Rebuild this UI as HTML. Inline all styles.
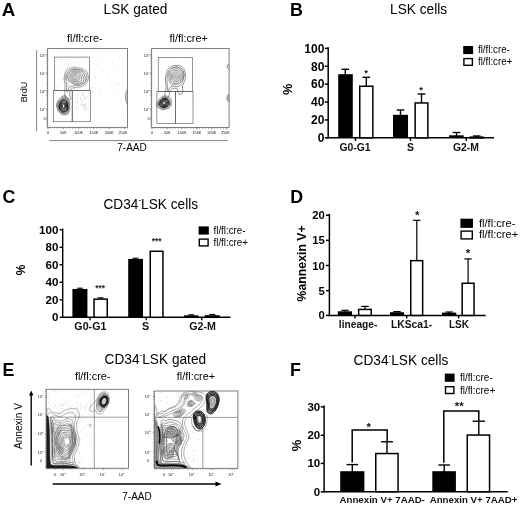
<!DOCTYPE html>
<html lang="en"><head><meta charset="utf-8"><title>Figure</title>
<style>html,body{margin:0;padding:0;background:#fff;}svg{display:block;}text{font-family:"Liberation Sans", Arial, Helvetica, sans-serif;}</style></head><body>
<svg width="520" height="506" viewBox="0 0 520 506">
<rect x="0" y="0" width="520" height="506" fill="#fff"/>
<g id="fig" style="filter:blur(0.35px)">
<text x="0" y="0" font-size="17.5" font-weight="bold" fill="#000" transform="translate(1.8 15.8) scale(1.07 1)">A</text>
<text x="0" y="0" font-size="14.8" fill="#000" text-anchor="middle" transform="translate(135.5 14.1) scale(0.925 1)">LSK gated</text>
<text x="0" y="0" font-size="11.3" text-anchor="start" fill="#000" transform="translate(67.0 41.8) scale(0.96 1)">fl/fl:cre-</text>
<text x="0" y="0" font-size="11.3" text-anchor="start" fill="#000" transform="translate(169.6 41.8) scale(0.96 1)">fl/fl:cre+</text>
<text x="27.1" y="92" font-size="9.1" text-anchor="middle" fill="#000" transform="rotate(-90 27.1 92)">BrdU</text>
<text x="132" y="150.6" font-size="10" text-anchor="middle" fill="#000">7-AAD</text>
<line x1="36.6" y1="50.2" x2="36.6" y2="131.2" stroke="#858585" stroke-width="1.0"/>
<line x1="49.2" y1="140.6" x2="227.7" y2="140.6" stroke="#858585" stroke-width="1.0"/>
<rect x="47.70" y="48.60" width="79.70" height="78.70" fill="none" stroke="#555" stroke-width="0.75"/>
<text x="44.1" y="57.1" font-size="3.8" text-anchor="end" fill="#151515">10</text>
<text x="44.1" y="55.300000000000004" font-size="2.4" text-anchor="start" fill="#151515">5</text>
<line x1="45.900000000000006" y1="55.7" x2="47.7" y2="55.7" stroke="#555" stroke-width="0.5"/>
<text x="44.1" y="74.9" font-size="3.8" text-anchor="end" fill="#151515">10</text>
<text x="44.1" y="73.1" font-size="2.4" text-anchor="start" fill="#151515">4</text>
<line x1="45.900000000000006" y1="73.5" x2="47.7" y2="73.5" stroke="#555" stroke-width="0.5"/>
<text x="44.1" y="92.7" font-size="3.8" text-anchor="end" fill="#151515">10</text>
<text x="44.1" y="90.89999999999999" font-size="2.4" text-anchor="start" fill="#151515">3</text>
<line x1="45.900000000000006" y1="91.3" x2="47.7" y2="91.3" stroke="#555" stroke-width="0.5"/>
<text x="44.1" y="111.0" font-size="3.8" text-anchor="end" fill="#151515">10</text>
<text x="44.1" y="109.19999999999999" font-size="2.4" text-anchor="start" fill="#151515">2</text>
<line x1="45.900000000000006" y1="109.6" x2="47.7" y2="109.6" stroke="#555" stroke-width="0.5"/>
<text x="45.5" y="119.5" font-size="3.8" text-anchor="end" fill="#151515">0</text>
<line x1="45.900000000000006" y1="118.2" x2="47.7" y2="118.2" stroke="#555" stroke-width="0.5"/>
<text x="48.1" y="133.7" font-size="3.8" text-anchor="middle" fill="#151515">0</text>
<line x1="48.1" y1="127.3" x2="48.1" y2="129.1" stroke="#555" stroke-width="0.5"/>
<text x="63.35" y="133.7" font-size="3.8" text-anchor="middle" fill="#151515">50K</text>
<line x1="63.35" y1="127.3" x2="63.35" y2="129.1" stroke="#555" stroke-width="0.5"/>
<text x="78.6" y="133.7" font-size="3.8" text-anchor="middle" fill="#151515">100K</text>
<line x1="78.6" y1="127.3" x2="78.6" y2="129.1" stroke="#555" stroke-width="0.5"/>
<text x="93.85" y="133.7" font-size="3.8" text-anchor="middle" fill="#151515">150K</text>
<line x1="93.85" y1="127.3" x2="93.85" y2="129.1" stroke="#555" stroke-width="0.5"/>
<text x="109.1" y="133.7" font-size="3.8" text-anchor="middle" fill="#151515">200K</text>
<line x1="109.1" y1="127.3" x2="109.1" y2="129.1" stroke="#555" stroke-width="0.5"/>
<text x="122.85" y="133.7" font-size="3.8" text-anchor="middle" fill="#151515">250K</text>
<line x1="124.35" y1="127.3" x2="124.35" y2="129.1" stroke="#555" stroke-width="0.5"/>
<line x1="47.7" y1="128.2" x2="127.4" y2="128.2" stroke="#666" stroke-width="1.2" stroke-dasharray="0.5 2.55"/>
<line x1="46.900000000000006" y1="50.6" x2="46.900000000000006" y2="127.3" stroke="#666" stroke-width="1.1" stroke-dasharray="0.5 1.3"/>
<path d="M78.0 61.4h0.6M100.3 58.6h0.6M92.4 69.2h0.6M59.9 74.3h0.6M58.5 71.6h0.6M60.8 59.3h0.6M84.9 85.8h0.6M64.4 64.0h0.6M98.7 90.1h0.6M95.2 70.3h0.6M122.4 57.7h0.6M114.4 66.4h0.6M65.8 60.2h0.6M77.0 85.4h0.6M68.3 76.9h0.6M99.4 69.4h0.6M93.2 58.3h0.6M60.1 63.4h0.6M102.3 71.4h0.6M77.4 77.1h0.6M86.8 66.8h0.6M110.0 81.2h0.6M72.6 76.7h0.6M91.7 87.5h0.6M105.6 66.4h0.6M122.7 60.3h0.6M84.4 83.3h0.6M66.3 73.6h0.6M58.7 80.1h0.6M108.0 76.6h0.6M115.5 67.3h0.6M103.3 77.4h0.6M95.4 72.4h0.6M113.1 90.0h0.6M88.2 79.9h0.6M60.1 81.3h0.6M100.0 91.8h0.6M111.9 66.2h0.6M82.2 80.1h0.6M57.5 72.6h0.6M67.4 60.2h0.6M60.0 83.7h0.6M64.8 64.9h0.6M82.6 87.4h0.6M61.5 72.2h0.6M93.4 87.8h0.6M111.7 87.1h0.6M74.9 71.0h0.6M80.4 87.8h0.6M121.1 61.4h0.6M68.0 64.4h0.6M71.9 73.5h0.6M96.1 65.5h0.6M56.3 71.1h0.6M81.1 76.4h0.6M120.8 80.9h0.6M91.1 78.2h0.6M102.0 57.9h0.6M117.2 84.1h0.6M115.5 84.7h0.6M82.7 70.4h0.6M63.0 78.8h0.6M60.2 58.4h0.6M70.2 61.8h0.6M79.1 57.9h0.6M56.0 61.4h0.6M62.9 69.1h0.6M57.7 87.5h0.6M97.8 61.3h0.6M73.2 68.5h0.6M80.8 60.4h0.6M113.7 91.8h0.6M87.7 73.4h0.6M61.8 59.7h0.6M79.3 65.5h0.6M112.4 61.8h0.6M57.6 90.2h0.6M91.9 61.3h0.6M92.9 57.0h0.6M91.9 91.2h0.6M114.7 81.1h0.6M73.8 69.2h0.6M67.4 83.8h0.6M92.2 84.0h0.6M78.4 64.0h0.6M111.2 91.5h0.6M114.0 85.0h0.6M111.6 82.6h0.6M71.4 74.6h0.6M80.2 57.0h0.6M57.9 66.1h0.6M73.6 80.9h0.6M121.0 72.1h0.6M119.7 91.6h0.6M120.9 69.1h0.6M71.0 64.2h0.6M69.4 63.4h0.6M98.4 88.4h0.6M113.1 73.3h0.6M100.4 84.8h0.6M61.8 79.8h0.6M117.9 84.2h0.6M107.0 73.2h0.6M68.1 84.4h0.6M78.6 84.8h0.6M122.1 70.3h0.6M83.3 90.1h0.6M105.3 62.1h0.6M64.6 61.4h0.6M117.5 85.0h0.6M65.9 85.8h0.6M122.7 79.7h0.6M79.8 75.8h0.6M64.9 56.5h0.6M122.0 79.4h0.6M91.8 89.6h0.6M85.5 87.4h0.6M112.2 63.6h0.6M73.1 66.5h0.6M72.4 77.1h0.6" stroke="#c4c4c4" stroke-width="0.6" fill="none"/>
<path d="M73.6 104.6h0.6M64.9 119.3h0.6M80.1 105.7h0.6M95.7 119.1h0.6M84.6 119.5h0.6M90.1 108.0h0.6M91.6 92.6h0.6M85.9 97.5h0.6M56.3 116.0h0.6M67.7 106.2h0.6M105.3 108.7h0.6M78.2 107.6h0.6M93.8 115.5h0.6M63.2 108.8h0.6M72.9 100.3h0.6M108.5 107.2h0.6M94.2 114.8h0.6M118.0 105.3h0.6M97.7 107.2h0.6M90.8 112.8h0.6M86.8 108.0h0.6M88.5 120.2h0.6M103.5 118.3h0.6M120.1 99.8h0.6M94.0 120.3h0.6M113.1 96.1h0.6M64.3 105.3h0.6M60.9 99.2h0.6M61.0 112.1h0.6M109.3 118.9h0.6M66.5 113.5h0.6M100.9 96.3h0.6M116.0 121.0h0.6M70.9 120.6h0.6M83.1 106.6h0.6M123.3 117.0h0.6M67.0 104.9h0.6M91.1 102.2h0.6M69.3 101.6h0.6M105.1 92.6h0.6" stroke="#d0d0d0" stroke-width="0.6" fill="none"/>
<path d="M82.6 74.3h0.6M66.5 71.3h0.6M84.7 76.3h0.6M67.9 89.6h0.6M89.7 89.2h0.6M69.1 69.4h0.6M67.2 83.8h0.6M74.1 65.6h0.6M78.7 87.5h0.6M90.6 69.2h0.6M70.5 87.7h0.6M83.1 81.6h0.6M68.7 63.6h0.6M86.6 73.9h0.6M68.2 88.3h0.6M85.0 84.4h0.6M68.5 86.0h0.6M68.0 86.2h0.6M79.6 71.5h0.6M82.6 87.9h0.6M74.0 65.6h0.6M81.8 68.7h0.6M69.3 66.5h0.6M67.5 67.6h0.6M75.4 70.5h0.6M88.8 70.1h0.6M81.0 67.0h0.6M76.4 62.5h0.6M73.5 62.4h0.6M88.0 77.4h0.6M71.7 75.3h0.6M94.0 65.0h0.6M90.6 74.1h0.6M80.9 85.4h0.6M77.8 76.2h0.6M86.6 89.5h0.6M76.3 85.3h0.6M87.2 79.8h0.6M78.1 71.7h0.6M67.6 65.6h0.6M68.1 82.7h0.6M73.7 66.6h0.6M68.5 85.6h0.6M92.1 80.8h0.6M74.5 68.8h0.6M74.8 74.9h0.6M70.7 74.5h0.6M73.9 88.9h0.6M95.2 77.3h0.6M73.3 89.0h0.6M75.3 72.0h0.6M66.0 72.7h0.6M80.2 76.1h0.6M72.0 76.1h0.6M66.1 69.4h0.6M68.7 73.2h0.6M67.3 62.6h0.6M75.1 68.5h0.6M83.6 76.8h0.6M88.5 80.4h0.6" stroke="#aaa" stroke-width="0.6" fill="none"/>
<path d="M84.3 108.1h0.6M80.1 99.2h0.6M87.8 96.4h0.6M84.4 104.3h0.6M75.6 107.4h0.6M86.6 104.0h0.6M84.5 107.0h0.6M76.8 102.4h0.6M81.6 107.4h0.6M85.5 107.2h0.6M82.6 108.3h0.6M83.9 105.1h0.6M78.0 94.5h0.6M76.7 99.8h0.6M76.4 107.4h0.6M82.3 104.0h0.6M83.1 104.9h0.6M81.4 94.1h0.6M85.4 106.0h0.6M81.5 102.6h0.6M83.6 95.1h0.6M84.6 98.0h0.6M76.0 98.2h0.6M84.5 97.3h0.6M84.6 109.6h0.6M81.4 100.1h0.6M81.2 104.9h0.6M85.0 103.9h0.6M83.4 95.2h0.6M76.9 98.1h0.6M84.7 98.9h0.6M82.4 94.2h0.6M75.8 98.3h0.6M83.7 105.1h0.6M83.8 98.7h0.6M81.7 101.4h0.6M81.1 95.9h0.6M86.6 97.2h0.6M87.7 109.0h0.6M75.2 101.3h0.6M85.7 109.5h0.6M80.8 98.3h0.6M77.7 109.1h0.6M77.7 103.3h0.6M76.8 102.4h0.6" stroke="#999" stroke-width="0.6" fill="none"/>
<rect x="54.60" y="57.10" width="35.00" height="33.60" fill="none" stroke="#555" stroke-width="0.62"/>
<rect x="53.50" y="90.70" width="18.70" height="31.00" fill="none" stroke="#555" stroke-width="0.62"/>
<rect x="72.20" y="90.70" width="18.30" height="31.00" fill="none" stroke="#555" stroke-width="0.62"/>
<path d="M64.50 75.00C64.95 73.33 65.58 71.20 67.00 70.00C68.42 68.80 70.83 68.10 73.00 67.80C75.17 67.50 77.83 67.67 80.00 68.20C82.17 68.73 84.62 69.53 86.00 71.00C87.38 72.47 88.22 75.00 88.30 77.00C88.38 79.00 87.72 81.40 86.50 83.00C85.28 84.60 82.92 85.87 81.00 86.60C79.08 87.33 76.75 86.92 75.00 87.40C73.25 87.88 71.40 88.23 70.50 89.50C69.60 90.77 69.58 93.42 69.60 95.00C69.62 96.58 71.20 98.50 70.60 99.00C70.00 99.50 66.97 99.00 66.00 98.00C65.03 97.00 64.93 95.00 64.80 93.00C64.67 91.00 65.28 88.17 65.20 86.00C65.12 83.83 64.42 81.83 64.30 80.00C64.18 78.17 64.05 76.67 64.50 75.00Z" fill="none" stroke="#4a4a4a" stroke-width="0.55" stroke-linejoin="round"/>
<path d="M66.00 75.50C66.53 74.08 67.67 72.03 69.00 71.00C70.33 69.97 72.17 69.50 74.00 69.30C75.83 69.10 78.17 69.27 80.00 69.80C81.83 70.33 83.87 71.25 85.00 72.50C86.13 73.75 86.80 75.72 86.80 77.30C86.80 78.88 86.13 80.72 85.00 82.00C83.87 83.28 81.83 84.37 80.00 85.00C78.17 85.63 75.75 85.47 74.00 85.80C72.25 86.13 70.57 86.05 69.50 87.00C68.43 87.95 68.08 91.00 67.60 91.50C67.12 92.00 66.75 91.25 66.60 90.00C66.45 88.75 66.83 85.75 66.70 84.00C66.57 82.25 65.92 80.92 65.80 79.50C65.68 78.08 65.47 76.92 66.00 75.50Z" fill="none" stroke="#4a4a4a" stroke-width="0.55" stroke-linejoin="round"/>
<path d="M85.33 78.43C85.44 79.48 85.84 80.86 85.21 81.75C84.59 82.64 82.89 83.33 81.58 83.78C80.26 84.23 78.71 84.41 77.33 84.43C75.95 84.44 74.56 84.31 73.30 83.87C72.03 83.42 70.86 82.52 69.75 81.76C68.63 81.01 67.14 80.35 66.60 79.35C66.07 78.35 66.14 76.81 66.52 75.79C66.90 74.77 68.12 74.06 68.90 73.24C69.69 72.43 70.17 71.51 71.22 70.91C72.27 70.32 73.82 69.76 75.21 69.67C76.59 69.57 78.25 69.91 79.55 70.36C80.86 70.82 82.20 71.56 83.04 72.40C83.87 73.24 84.19 74.41 84.57 75.42C84.95 76.42 85.22 77.37 85.33 78.43Z" fill="none" stroke="#484848" stroke-width="0.55" stroke-linejoin="round"/>
<path d="M83.65 78.37C83.73 79.28 83.95 80.40 83.42 81.13C82.88 81.86 81.52 82.38 80.44 82.73C79.36 83.07 78.12 83.19 76.94 83.20C75.76 83.20 74.41 83.09 73.35 82.74C72.29 82.39 71.47 81.75 70.58 81.10C69.68 80.45 68.46 79.68 67.99 78.86C67.51 78.03 67.44 76.99 67.73 76.17C68.03 75.36 69.09 74.66 69.77 73.96C70.45 73.27 70.94 72.49 71.82 72.02C72.71 71.54 73.95 71.17 75.08 71.11C76.20 71.04 77.47 71.26 78.56 71.62C79.65 71.97 80.88 72.56 81.60 73.24C82.33 73.91 82.57 74.82 82.91 75.68C83.25 76.53 83.57 77.46 83.65 78.37Z" fill="none" stroke="#484848" stroke-width="0.55" stroke-linejoin="round"/>
<path d="M81.63 78.01C81.72 78.72 82.08 79.73 81.66 80.33C81.23 80.94 79.94 81.38 79.09 81.65C78.24 81.92 77.48 81.97 76.56 81.95C75.64 81.93 74.46 81.81 73.58 81.52C72.70 81.24 72.01 80.75 71.28 80.25C70.55 79.74 69.53 79.17 69.18 78.52C68.82 77.87 68.84 76.97 69.13 76.34C69.41 75.70 70.35 75.24 70.89 74.70C71.43 74.16 71.70 73.51 72.37 73.10C73.05 72.69 74.02 72.31 74.92 72.24C75.82 72.16 76.88 72.31 77.75 72.63C78.62 72.95 79.59 73.58 80.15 74.16C80.72 74.73 80.90 75.43 81.14 76.07C81.39 76.71 81.55 77.30 81.63 78.01Z" fill="none" stroke="#484848" stroke-width="0.55" stroke-linejoin="round"/>
<path d="M79.92 77.97C79.94 78.47 80.04 79.10 79.70 79.51C79.37 79.92 78.55 80.22 77.92 80.45C77.29 80.68 76.59 80.87 75.93 80.89C75.28 80.92 74.61 80.85 73.96 80.60C73.31 80.35 72.61 79.79 72.05 79.42C71.50 79.04 70.90 78.82 70.65 78.35C70.39 77.88 70.36 77.10 70.52 76.59C70.69 76.08 71.19 75.68 71.61 75.29C72.03 74.90 72.48 74.53 73.03 74.26C73.58 73.98 74.25 73.73 74.90 73.65C75.54 73.58 76.26 73.59 76.89 73.79C77.53 74.00 78.23 74.43 78.68 74.87C79.13 75.32 79.37 75.97 79.57 76.49C79.78 77.00 79.90 77.47 79.92 77.97Z" fill="none" stroke="#484848" stroke-width="0.55" stroke-linejoin="round"/>
<path d="M78.12 77.72C78.15 78.05 78.27 78.53 78.05 78.79C77.83 79.05 77.23 79.16 76.81 79.29C76.39 79.41 75.96 79.51 75.53 79.54C75.09 79.57 74.63 79.60 74.19 79.46C73.75 79.31 73.30 78.93 72.91 78.68C72.52 78.44 72.02 78.29 71.86 77.97C71.69 77.64 71.80 77.05 71.92 76.72C72.04 76.39 72.31 76.25 72.57 75.99C72.83 75.74 73.13 75.40 73.48 75.21C73.83 75.02 74.22 74.87 74.64 74.84C75.06 74.80 75.56 74.84 76.01 75.00C76.45 75.16 77.00 75.50 77.31 75.80C77.62 76.10 77.73 76.47 77.86 76.78C78.00 77.10 78.09 77.39 78.12 77.72Z" fill="none" stroke="#484848" stroke-width="0.55" stroke-linejoin="round"/>
<path d="M76.23 77.42C76.25 77.62 76.23 78.00 76.14 78.14C76.05 78.28 75.89 78.23 75.67 78.28C75.46 78.32 75.07 78.42 74.85 78.42C74.63 78.43 74.54 78.38 74.34 78.32C74.15 78.26 73.86 78.19 73.69 78.06C73.52 77.93 73.44 77.72 73.34 77.54C73.25 77.37 73.07 77.16 73.11 77.02C73.15 76.88 73.45 76.81 73.59 76.70C73.72 76.59 73.74 76.47 73.92 76.36C74.10 76.26 74.44 76.10 74.66 76.09C74.87 76.08 75.03 76.23 75.22 76.31C75.42 76.40 75.69 76.49 75.83 76.59C75.97 76.70 75.99 76.80 76.06 76.94C76.13 77.08 76.22 77.22 76.23 77.42Z" fill="none" stroke="#484848" stroke-width="0.55" stroke-linejoin="round"/>
<path d="M69.70 105.58C69.70 106.97 69.83 108.43 69.56 109.80C69.29 111.16 68.81 112.92 68.07 113.78C67.34 114.63 66.14 114.80 65.15 114.92C64.17 115.05 63.07 114.88 62.15 114.54C61.22 114.20 60.35 113.67 59.61 112.87C58.87 112.07 58.23 110.94 57.72 109.72C57.20 108.50 56.54 106.97 56.50 105.57C56.47 104.16 56.95 102.42 57.50 101.27C58.04 100.12 58.98 99.48 59.77 98.67C60.56 97.85 61.34 96.90 62.26 96.39C63.17 95.88 64.35 95.31 65.25 95.60C66.16 95.90 66.97 97.18 67.69 98.15C68.41 99.13 69.24 100.21 69.57 101.45C69.91 102.69 69.71 104.19 69.70 105.58Z" fill="none" stroke="#444" stroke-width="0.55" stroke-linejoin="round"/>
<path d="M69.11 105.63C69.12 106.88 69.16 108.24 68.90 109.45C68.64 110.67 68.19 112.16 67.55 112.92C66.90 113.68 65.88 113.88 65.01 114.01C64.14 114.14 63.16 114.01 62.33 113.71C61.49 113.41 60.69 112.95 60.00 112.21C59.30 111.48 58.60 110.41 58.15 109.30C57.70 108.20 57.28 106.82 57.28 105.59C57.29 104.35 57.71 102.93 58.19 101.89C58.67 100.85 59.44 100.10 60.14 99.35C60.84 98.60 61.59 97.84 62.39 97.39C63.20 96.95 64.15 96.45 64.96 96.69C65.78 96.92 66.64 97.92 67.29 98.79C67.94 99.67 68.54 100.80 68.85 101.94C69.15 103.08 69.10 104.38 69.11 105.63Z" fill="none" stroke="#444" stroke-width="0.55" stroke-linejoin="round"/>
<path d="M68.70 105.70C68.72 106.82 68.71 107.83 68.45 108.92C68.19 110.00 67.73 111.47 67.13 112.21C66.54 112.95 65.66 113.25 64.88 113.35C64.10 113.44 63.21 113.08 62.45 112.80C61.69 112.51 60.91 112.28 60.32 111.64C59.72 111.00 59.29 109.96 58.89 108.97C58.50 107.98 57.95 106.83 57.93 105.72C57.91 104.61 58.34 103.25 58.78 102.31C59.21 101.36 59.95 100.73 60.56 100.05C61.16 99.37 61.68 98.67 62.40 98.25C63.13 97.83 64.17 97.31 64.92 97.54C65.67 97.77 66.31 98.86 66.88 99.64C67.45 100.42 68.03 101.23 68.33 102.24C68.64 103.25 68.68 104.59 68.70 105.70Z" fill="none" stroke="#444" stroke-width="0.55" stroke-linejoin="round"/>
<path d="M67.93 105.72C67.93 106.73 67.95 107.78 67.77 108.76C67.59 109.73 67.37 110.99 66.84 111.59C66.31 112.18 65.32 112.25 64.60 112.32C63.88 112.40 63.17 112.27 62.53 112.04C61.88 111.82 61.29 111.53 60.75 110.97C60.22 110.41 59.68 109.53 59.32 108.66C58.95 107.79 58.56 106.73 58.57 105.75C58.57 104.77 58.94 103.60 59.34 102.76C59.73 101.92 60.38 101.31 60.93 100.70C61.48 100.10 62.01 99.49 62.64 99.14C63.28 98.79 64.07 98.39 64.73 98.58C65.39 98.77 66.09 99.59 66.59 100.28C67.10 100.97 67.55 101.80 67.77 102.70C68.00 103.61 67.93 104.72 67.93 105.72Z" fill="none" stroke="#444" stroke-width="0.55" stroke-linejoin="round"/>
<path d="M67.37 105.83C67.38 106.67 67.44 107.43 67.26 108.27C67.09 109.11 66.78 110.32 66.32 110.86C65.87 111.40 65.10 111.43 64.51 111.50C63.92 111.57 63.35 111.48 62.80 111.27C62.25 111.06 61.67 110.72 61.19 110.24C60.72 109.76 60.24 109.12 59.93 108.39C59.61 107.65 59.31 106.72 59.28 105.83C59.26 104.95 59.45 103.83 59.77 103.09C60.08 102.35 60.67 101.91 61.18 101.41C61.68 100.91 62.23 100.41 62.81 100.10C63.38 99.80 64.08 99.40 64.65 99.56C65.22 99.73 65.80 100.47 66.23 101.08C66.65 101.70 67.02 102.45 67.21 103.24C67.41 104.03 67.36 104.99 67.37 105.83Z" fill="none" stroke="#444" stroke-width="0.55" stroke-linejoin="round"/>
<path d="M67.69 105.98C67.76 106.93 67.91 108.13 67.68 108.98C67.45 109.82 66.87 110.54 66.33 111.05C65.80 111.55 65.09 111.83 64.48 112.01C63.87 112.19 63.26 112.32 62.67 112.13C62.08 111.93 61.46 111.37 60.96 110.83C60.45 110.28 59.90 109.67 59.61 108.87C59.31 108.06 59.13 106.90 59.19 105.98C59.25 105.06 59.69 104.18 59.98 103.36C60.28 102.53 60.51 101.64 60.95 101.03C61.39 100.42 62.01 99.90 62.62 99.69C63.23 99.48 64.00 99.53 64.61 99.74C65.22 99.96 65.83 100.37 66.28 100.96C66.73 101.55 67.06 102.45 67.29 103.28C67.53 104.12 67.63 105.03 67.69 105.98Z" fill="none" stroke="#000" stroke-width="0.85" stroke-linejoin="round"/>
<path d="M67.04 105.99C67.09 106.76 67.21 107.72 67.02 108.42C66.83 109.12 66.34 109.78 65.89 110.20C65.44 110.61 64.84 110.77 64.33 110.92C63.82 111.06 63.30 111.22 62.83 111.06C62.36 110.90 61.91 110.42 61.49 109.97C61.07 109.52 60.56 109.03 60.30 108.36C60.05 107.69 59.94 106.72 59.98 105.96C60.02 105.21 60.31 104.52 60.56 103.84C60.80 103.15 61.08 102.38 61.45 101.87C61.82 101.36 62.30 100.97 62.80 100.79C63.29 100.62 63.94 100.64 64.44 100.82C64.94 101.00 65.42 101.37 65.80 101.87C66.18 102.36 66.51 103.11 66.72 103.80C66.93 104.48 66.99 105.22 67.04 105.99Z" fill="none" stroke="#000" stroke-width="0.85" stroke-linejoin="round"/>
<path d="M66.23 106.04C66.28 106.66 66.40 107.41 66.26 107.96C66.12 108.51 65.73 109.01 65.39 109.34C65.04 109.67 64.57 109.84 64.17 109.94C63.76 110.04 63.33 110.09 62.96 109.96C62.59 109.84 62.28 109.55 61.94 109.19C61.61 108.84 61.16 108.37 60.96 107.84C60.76 107.31 60.70 106.60 60.74 106.00C60.78 105.40 61.02 104.79 61.21 104.26C61.39 103.72 61.55 103.20 61.85 102.80C62.15 102.39 62.61 101.97 63.01 101.83C63.40 101.69 63.84 101.82 64.23 101.97C64.61 102.12 65.02 102.36 65.32 102.74C65.61 103.13 65.83 103.73 65.98 104.28C66.13 104.83 66.19 105.43 66.23 106.04Z" fill="none" stroke="#000" stroke-width="0.85" stroke-linejoin="round"/>
<path d="M65.56 106.01C65.60 106.45 65.64 106.99 65.53 107.39C65.42 107.79 65.15 108.17 64.90 108.41C64.66 108.65 64.35 108.78 64.05 108.85C63.76 108.93 63.43 108.95 63.15 108.86C62.87 108.77 62.62 108.55 62.38 108.31C62.13 108.06 61.81 107.78 61.67 107.39C61.53 107.01 61.52 106.44 61.54 106.00C61.57 105.56 61.70 105.15 61.83 104.75C61.95 104.35 62.08 103.91 62.30 103.61C62.52 103.31 62.84 103.04 63.13 102.94C63.42 102.85 63.76 102.93 64.05 103.04C64.33 103.15 64.63 103.32 64.84 103.61C65.06 103.90 65.21 104.36 65.33 104.76C65.45 105.16 65.53 105.57 65.56 106.01Z" fill="none" stroke="#000" stroke-width="0.85" stroke-linejoin="round"/>
<path d="M64.86 106.00C64.88 106.28 64.86 106.62 64.79 106.88C64.71 107.15 64.56 107.41 64.41 107.57C64.25 107.73 64.01 107.79 63.84 107.84C63.67 107.89 63.53 107.93 63.37 107.86C63.20 107.79 63.00 107.59 62.85 107.43C62.70 107.26 62.53 107.09 62.44 106.86C62.36 106.63 62.32 106.31 62.33 106.04C62.33 105.77 62.38 105.50 62.47 105.24C62.55 104.98 62.71 104.66 62.85 104.47C62.98 104.28 63.13 104.17 63.29 104.12C63.46 104.07 63.67 104.10 63.85 104.17C64.04 104.23 64.25 104.34 64.39 104.51C64.53 104.68 64.60 104.95 64.68 105.20C64.76 105.45 64.85 105.72 64.86 106.00Z" fill="none" stroke="#000" stroke-width="0.85" stroke-linejoin="round"/>
<circle cx="63.6" cy="105.4" r="0.55" fill="#eee"/>
<path d="M127.20 89.00C126.98 89.67 126.17 91.67 125.90 93.00C125.63 94.33 125.60 95.67 125.60 97.00C125.60 98.33 125.63 99.75 125.90 101.00C126.17 102.25 126.98 103.92 127.20 104.50" fill="none" stroke="#666" stroke-width="0.6" stroke-linejoin="round"/>
<path d="M127.20 92.00C127.08 92.50 126.63 94.00 126.50 95.00C126.37 96.00 126.28 96.92 126.40 98.00C126.52 99.08 127.07 100.92 127.20 101.50" fill="none" stroke="#777" stroke-width="0.5" stroke-linejoin="round"/>
<rect x="151.70" y="48.60" width="77.40" height="78.90" fill="none" stroke="#555" stroke-width="0.75"/>
<text x="148.1" y="57.1" font-size="3.8" text-anchor="end" fill="#151515">10</text>
<text x="148.1" y="55.300000000000004" font-size="2.4" text-anchor="start" fill="#151515">5</text>
<line x1="149.89999999999998" y1="55.7" x2="151.7" y2="55.7" stroke="#555" stroke-width="0.5"/>
<text x="148.1" y="74.9" font-size="3.8" text-anchor="end" fill="#151515">10</text>
<text x="148.1" y="73.1" font-size="2.4" text-anchor="start" fill="#151515">4</text>
<line x1="149.89999999999998" y1="73.5" x2="151.7" y2="73.5" stroke="#555" stroke-width="0.5"/>
<text x="148.1" y="92.7" font-size="3.8" text-anchor="end" fill="#151515">10</text>
<text x="148.1" y="90.89999999999999" font-size="2.4" text-anchor="start" fill="#151515">3</text>
<line x1="149.89999999999998" y1="91.3" x2="151.7" y2="91.3" stroke="#555" stroke-width="0.5"/>
<text x="148.1" y="111.0" font-size="3.8" text-anchor="end" fill="#151515">10</text>
<text x="148.1" y="109.19999999999999" font-size="2.4" text-anchor="start" fill="#151515">2</text>
<line x1="149.89999999999998" y1="109.6" x2="151.7" y2="109.6" stroke="#555" stroke-width="0.5"/>
<text x="149.5" y="119.5" font-size="3.8" text-anchor="end" fill="#151515">0</text>
<line x1="149.89999999999998" y1="118.2" x2="151.7" y2="118.2" stroke="#555" stroke-width="0.5"/>
<text x="152.1" y="133.9" font-size="3.8" text-anchor="middle" fill="#151515">0</text>
<line x1="152.1" y1="127.5" x2="152.1" y2="129.3" stroke="#555" stroke-width="0.5"/>
<text x="167.04999999999998" y="133.9" font-size="3.8" text-anchor="middle" fill="#151515">50K</text>
<line x1="167.04999999999998" y1="127.5" x2="167.04999999999998" y2="129.3" stroke="#555" stroke-width="0.5"/>
<text x="182.0" y="133.9" font-size="3.8" text-anchor="middle" fill="#151515">100K</text>
<line x1="182.0" y1="127.5" x2="182.0" y2="129.3" stroke="#555" stroke-width="0.5"/>
<text x="196.95" y="133.9" font-size="3.8" text-anchor="middle" fill="#151515">150K</text>
<line x1="196.95" y1="127.5" x2="196.95" y2="129.3" stroke="#555" stroke-width="0.5"/>
<text x="211.89999999999998" y="133.9" font-size="3.8" text-anchor="middle" fill="#151515">200K</text>
<line x1="211.89999999999998" y1="127.5" x2="211.89999999999998" y2="129.3" stroke="#555" stroke-width="0.5"/>
<text x="225.35" y="133.9" font-size="3.8" text-anchor="middle" fill="#151515">250K</text>
<line x1="226.85" y1="127.5" x2="226.85" y2="129.3" stroke="#555" stroke-width="0.5"/>
<line x1="151.7" y1="128.4" x2="229.1" y2="128.4" stroke="#666" stroke-width="1.2" stroke-dasharray="0.5 2.49"/>
<line x1="150.89999999999998" y1="50.6" x2="150.89999999999998" y2="127.5" stroke="#666" stroke-width="1.1" stroke-dasharray="0.5 1.3"/>
<path d="M196.7 65.1h0.6M169.8 75.2h0.6M172.1 59.3h0.6M166.5 63.5h0.6M197.4 81.1h0.6M195.7 63.7h0.6M191.2 61.9h0.6M180.8 79.6h0.6M173.8 87.7h0.6M181.8 77.7h0.6M195.2 61.6h0.6M199.7 79.4h0.6M175.2 85.1h0.6M169.9 91.7h0.6M182.7 70.2h0.6M190.4 73.0h0.6M166.2 83.3h0.6M161.0 85.9h0.6M169.4 79.7h0.6M199.3 77.9h0.6M186.2 68.6h0.6M159.1 59.1h0.6" stroke="#ccc" stroke-width="0.6" fill="none"/>
<path d="M199.5 97.0h0.6M208.0 90.8h0.6M221.9 67.9h0.6M201.8 99.2h0.6M195.7 60.2h0.6M205.6 66.4h0.6" stroke="#ccc" stroke-width="0.6" fill="none"/>
<rect x="158.20" y="57.60" width="34.20" height="34.00" fill="none" stroke="#555" stroke-width="0.62"/>
<rect x="156.90" y="91.60" width="18.50" height="31.80" fill="none" stroke="#555" stroke-width="0.62"/>
<rect x="175.40" y="91.60" width="17.60" height="31.80" fill="none" stroke="#555" stroke-width="0.62"/>
<path d="M166.00 75.00C166.42 73.00 166.92 70.50 168.00 69.00C169.08 67.50 170.83 66.62 172.50 66.00C174.17 65.38 176.25 65.05 178.00 65.30C179.75 65.55 181.78 66.22 183.00 67.50C184.22 68.78 184.97 70.92 185.30 73.00C185.63 75.08 185.47 77.83 185.00 80.00C184.53 82.17 182.87 84.17 182.50 86.00C182.13 87.83 183.02 89.58 182.80 91.00C182.58 92.42 181.95 94.17 181.20 94.50C180.45 94.83 178.95 93.92 178.30 93.00C177.65 92.08 178.10 89.75 177.30 89.00C176.50 88.25 174.72 88.25 173.50 88.50C172.28 88.75 170.75 89.25 170.00 90.50C169.25 91.75 169.62 94.67 169.00 96.00C168.38 97.33 167.00 98.83 166.30 98.50C165.60 98.17 164.82 95.75 164.80 94.00C164.78 92.25 166.08 90.17 166.20 88.00C166.32 85.83 165.53 83.17 165.50 81.00C165.47 78.83 165.58 77.00 166.00 75.00Z" fill="none" stroke="#404040" stroke-width="0.55" stroke-linejoin="round"/>
<path d="M167.50 75.00C167.88 73.25 168.38 71.25 169.30 70.00C170.22 68.75 171.55 68.00 173.00 67.50C174.45 67.00 176.50 66.75 178.00 67.00C179.50 67.25 181.03 67.92 182.00 69.00C182.97 70.08 183.57 71.75 183.80 73.50C184.03 75.25 183.87 77.67 183.40 79.50C182.93 81.33 182.07 83.28 181.00 84.50C179.93 85.72 178.42 86.47 177.00 86.80C175.58 87.13 173.75 86.30 172.50 86.50C171.25 86.70 170.28 87.08 169.50 88.00C168.72 88.92 168.17 92.17 167.80 92.00C167.43 91.83 167.43 88.92 167.30 87.00C167.17 85.08 166.97 82.50 167.00 80.50C167.03 78.50 167.12 76.75 167.50 75.00Z" fill="none" stroke="#404040" stroke-width="0.55" stroke-linejoin="round"/>
<path d="M183.01 78.43C182.47 79.70 181.80 81.05 180.99 81.98C180.18 82.91 179.17 83.57 178.16 84.02C177.15 84.47 176.05 84.56 174.94 84.68C173.83 84.79 172.45 85.20 171.50 84.70C170.55 84.20 169.67 82.83 169.24 81.67C168.81 80.51 168.98 79.04 168.93 77.73C168.87 76.43 168.58 75.04 168.89 73.83C169.19 72.63 169.98 71.49 170.77 70.50C171.56 69.52 172.54 68.48 173.62 67.92C174.70 67.36 176.22 66.98 177.27 67.14C178.32 67.31 179.05 68.27 179.92 68.91C180.80 69.56 181.81 70.10 182.52 71.00C183.23 71.91 184.10 73.11 184.18 74.35C184.26 75.58 183.54 77.16 183.01 78.43Z" fill="none" stroke="#404040" stroke-width="0.55" stroke-linejoin="round"/>
<path d="M181.83 78.04C181.40 79.09 180.83 80.26 180.17 81.05C179.52 81.83 178.75 82.38 177.89 82.76C177.04 83.13 175.96 83.24 175.02 83.31C174.09 83.38 173.04 83.63 172.30 83.18C171.55 82.73 170.91 81.61 170.56 80.64C170.22 79.67 170.29 78.45 170.22 77.37C170.14 76.29 169.86 75.16 170.12 74.18C170.37 73.20 171.08 72.28 171.77 71.49C172.45 70.69 173.34 69.88 174.23 69.42C175.11 68.95 176.21 68.60 177.06 68.72C177.92 68.84 178.63 69.60 179.37 70.13C180.11 70.66 180.96 71.10 181.52 71.88C182.07 72.65 182.65 73.74 182.71 74.76C182.76 75.79 182.25 77.00 181.83 78.04Z" fill="none" stroke="#404040" stroke-width="0.55" stroke-linejoin="round"/>
<path d="M180.83 77.63C180.53 78.43 180.11 79.24 179.54 79.85C178.98 80.46 178.14 80.95 177.45 81.29C176.77 81.63 176.16 81.81 175.44 81.88C174.72 81.94 173.75 82.06 173.14 81.70C172.53 81.33 172.08 80.42 171.80 79.69C171.52 78.95 171.52 78.12 171.47 77.30C171.42 76.47 171.26 75.53 171.48 74.73C171.70 73.94 172.26 73.18 172.78 72.53C173.30 71.88 173.92 71.20 174.61 70.84C175.30 70.49 176.23 70.30 176.91 70.40C177.59 70.50 178.13 71.07 178.71 71.46C179.29 71.84 179.95 72.12 180.40 72.72C180.84 73.32 181.28 74.25 181.35 75.06C181.42 75.88 181.13 76.83 180.83 77.63Z" fill="none" stroke="#404040" stroke-width="0.55" stroke-linejoin="round"/>
<path d="M179.46 77.40C179.22 78.01 178.93 78.42 178.54 78.87C178.15 79.32 177.59 79.88 177.10 80.11C176.60 80.33 176.13 80.21 175.59 80.22C175.04 80.23 174.25 80.41 173.81 80.18C173.37 79.94 173.12 79.36 172.96 78.83C172.80 78.30 172.89 77.62 172.83 77.00C172.77 76.37 172.48 75.69 172.62 75.11C172.75 74.52 173.22 73.96 173.64 73.49C174.06 73.01 174.64 72.54 175.14 72.28C175.63 72.02 176.10 71.87 176.61 71.95C177.12 72.03 177.75 72.49 178.19 72.77C178.62 73.04 178.91 73.19 179.21 73.60C179.51 74.01 179.94 74.59 179.98 75.23C180.02 75.86 179.70 76.80 179.46 77.40Z" fill="none" stroke="#404040" stroke-width="0.55" stroke-linejoin="round"/>
<path d="M178.48 76.99C178.34 77.38 178.09 77.80 177.83 78.07C177.57 78.34 177.25 78.49 176.91 78.60C176.56 78.71 176.11 78.73 175.77 78.75C175.42 78.78 175.11 78.91 174.83 78.76C174.55 78.61 174.22 78.22 174.07 77.86C173.92 77.50 173.94 77.01 173.92 76.62C173.90 76.23 173.83 75.91 173.94 75.53C174.05 75.16 174.30 74.68 174.58 74.36C174.85 74.04 175.27 73.77 175.61 73.61C175.96 73.46 176.36 73.38 176.65 73.43C176.94 73.48 177.08 73.70 177.34 73.90C177.60 74.10 178.00 74.33 178.22 74.63C178.45 74.93 178.66 75.30 178.70 75.70C178.74 76.09 178.63 76.59 178.48 76.99Z" fill="none" stroke="#404040" stroke-width="0.55" stroke-linejoin="round"/>
<path d="M177.25 76.45C177.21 76.60 177.16 76.78 177.06 76.91C176.96 77.03 176.81 77.15 176.63 77.22C176.46 77.29 176.14 77.27 175.98 77.32C175.82 77.36 175.81 77.56 175.68 77.50C175.55 77.44 175.27 77.12 175.20 76.95C175.14 76.78 175.28 76.66 175.28 76.48C175.28 76.31 175.15 76.04 175.19 75.88C175.23 75.71 175.39 75.59 175.50 75.47C175.62 75.35 175.74 75.24 175.88 75.15C176.03 75.05 176.21 74.87 176.37 74.88C176.53 74.88 176.75 75.07 176.86 75.18C176.98 75.28 177.01 75.36 177.08 75.50C177.15 75.64 177.26 75.86 177.29 76.02C177.32 76.18 177.29 76.30 177.25 76.45Z" fill="none" stroke="#404040" stroke-width="0.55" stroke-linejoin="round"/>
<path d="M170.97 99.44C171.36 100.31 171.25 101.35 171.30 102.36C171.35 103.36 171.65 104.54 171.28 105.50C170.90 106.45 169.97 107.48 169.05 108.08C168.12 108.68 166.79 108.82 165.72 109.10C164.65 109.38 163.61 109.86 162.62 109.77C161.63 109.67 160.67 109.01 159.78 108.51C158.89 108.01 157.80 107.59 157.28 106.78C156.76 105.97 156.51 104.62 156.65 103.64C156.79 102.66 157.56 101.78 158.12 100.90C158.68 100.02 159.24 99.12 160.00 98.34C160.75 97.55 161.61 96.57 162.64 96.18C163.67 95.79 165.12 95.83 166.17 96.00C167.22 96.16 168.17 96.59 168.97 97.16C169.77 97.74 170.58 98.57 170.97 99.44Z" fill="none" stroke="#444" stroke-width="0.55" stroke-linejoin="round"/>
<path d="M170.01 99.94C170.33 100.70 170.30 101.52 170.34 102.40C170.39 103.28 170.59 104.40 170.27 105.23C169.96 106.06 169.22 106.87 168.45 107.38C167.68 107.89 166.60 108.04 165.65 108.31C164.70 108.57 163.62 109.04 162.74 108.98C161.85 108.91 161.12 108.38 160.36 107.92C159.60 107.45 158.61 106.92 158.16 106.19C157.70 105.46 157.50 104.40 157.62 103.54C157.73 102.69 158.36 101.84 158.84 101.08C159.32 100.31 159.80 99.63 160.48 98.96C161.16 98.29 162.04 97.38 162.93 97.05C163.83 96.71 164.95 96.83 165.86 96.97C166.77 97.11 167.72 97.38 168.42 97.88C169.11 98.37 169.69 99.19 170.01 99.94Z" fill="none" stroke="#444" stroke-width="0.55" stroke-linejoin="round"/>
<path d="M169.22 100.36C169.51 101.01 169.52 101.85 169.56 102.60C169.59 103.34 169.72 104.14 169.43 104.84C169.15 105.54 168.53 106.33 167.85 106.80C167.16 107.27 166.11 107.43 165.31 107.65C164.51 107.86 163.78 108.15 163.04 108.08C162.31 108.01 161.57 107.61 160.91 107.23C160.24 106.86 159.47 106.43 159.08 105.81C158.68 105.19 158.44 104.25 158.54 103.49C158.64 102.74 159.27 101.94 159.69 101.29C160.12 100.65 160.52 100.19 161.08 99.62C161.65 99.05 162.36 98.20 163.11 97.90C163.86 97.60 164.79 97.67 165.57 97.81C166.35 97.94 167.19 98.28 167.80 98.70C168.41 99.13 168.93 99.71 169.22 100.36Z" fill="none" stroke="#444" stroke-width="0.55" stroke-linejoin="round"/>
<path d="M168.33 100.86C168.58 101.38 168.65 101.91 168.69 102.53C168.74 103.15 168.84 103.97 168.59 104.57C168.33 105.18 167.72 105.80 167.16 106.16C166.61 106.52 165.92 106.57 165.26 106.73C164.60 106.89 163.81 107.14 163.19 107.11C162.56 107.08 162.03 106.86 161.49 106.55C160.94 106.23 160.25 105.75 159.92 105.23C159.59 104.71 159.43 104.05 159.52 103.45C159.62 102.85 160.12 102.19 160.48 101.65C160.84 101.11 161.19 100.70 161.65 100.21C162.12 99.72 162.63 98.99 163.26 98.73C163.90 98.47 164.81 98.53 165.47 98.64C166.13 98.75 166.76 99.02 167.24 99.39C167.71 99.76 168.09 100.34 168.33 100.86Z" fill="none" stroke="#444" stroke-width="0.55" stroke-linejoin="round"/>
<path d="M168.41 100.79C168.70 101.37 168.95 101.96 169.01 102.60C169.08 103.25 169.12 104.02 168.80 104.63C168.49 105.25 167.74 105.86 167.14 106.28C166.55 106.69 165.90 106.95 165.22 107.14C164.54 107.34 163.75 107.50 163.08 107.44C162.40 107.37 161.75 107.08 161.17 106.75C160.59 106.42 159.91 106.00 159.59 105.46C159.27 104.91 159.18 104.13 159.26 103.47C159.34 102.81 159.74 102.11 160.07 101.49C160.40 100.87 160.73 100.23 161.25 99.74C161.77 99.25 162.49 98.77 163.17 98.56C163.86 98.35 164.69 98.37 165.38 98.46C166.07 98.55 166.81 98.72 167.32 99.11C167.83 99.50 168.13 100.20 168.41 100.79Z" fill="none" stroke="#000" stroke-width="0.85" stroke-linejoin="round"/>
<path d="M167.63 101.14C167.87 101.62 168.09 102.14 168.14 102.67C168.20 103.20 168.24 103.85 167.99 104.35C167.73 104.85 167.13 105.33 166.64 105.68C166.14 106.02 165.57 106.26 165.01 106.42C164.45 106.58 163.83 106.70 163.29 106.64C162.75 106.59 162.25 106.36 161.76 106.09C161.28 105.83 160.63 105.50 160.36 105.05C160.09 104.60 160.08 103.93 160.14 103.39C160.21 102.85 160.49 102.32 160.76 101.81C161.03 101.29 161.36 100.70 161.77 100.29C162.19 99.89 162.71 99.57 163.28 99.39C163.84 99.22 164.58 99.19 165.16 99.25C165.74 99.31 166.33 99.46 166.74 99.78C167.16 100.09 167.40 100.66 167.63 101.14Z" fill="none" stroke="#000" stroke-width="0.85" stroke-linejoin="round"/>
<path d="M166.88 101.59C167.07 101.96 167.27 102.27 167.33 102.69C167.39 103.11 167.44 103.70 167.24 104.11C167.04 104.52 166.50 104.88 166.10 105.15C165.71 105.42 165.29 105.59 164.85 105.71C164.42 105.84 163.92 105.96 163.49 105.92C163.06 105.87 162.66 105.66 162.28 105.44C161.89 105.22 161.40 104.96 161.18 104.61C160.97 104.25 160.92 103.73 160.97 103.31C161.03 102.89 161.29 102.48 161.51 102.07C161.73 101.67 161.96 101.21 162.28 100.88C162.61 100.55 163.04 100.23 163.49 100.09C163.93 99.94 164.48 99.96 164.94 100.02C165.40 100.08 165.91 100.19 166.23 100.45C166.56 100.71 166.70 101.21 166.88 101.59Z" fill="none" stroke="#000" stroke-width="0.85" stroke-linejoin="round"/>
<path d="M166.18 101.95C166.31 102.22 166.48 102.52 166.50 102.83C166.53 103.15 166.49 103.54 166.34 103.82C166.19 104.11 165.89 104.35 165.61 104.55C165.34 104.74 165.01 104.91 164.69 105.00C164.36 105.09 163.97 105.14 163.66 105.10C163.34 105.05 163.09 104.87 162.82 104.72C162.55 104.56 162.20 104.42 162.03 104.17C161.86 103.92 161.75 103.53 161.79 103.22C161.83 102.91 162.09 102.62 162.26 102.34C162.42 102.05 162.54 101.76 162.78 101.52C163.02 101.28 163.36 101.01 163.70 100.90C164.03 100.78 164.45 100.76 164.78 100.81C165.12 100.85 165.48 100.99 165.71 101.18C165.94 101.37 166.05 101.67 166.18 101.95Z" fill="none" stroke="#000" stroke-width="0.85" stroke-linejoin="round"/>
<path d="M165.43 102.37C165.53 102.54 165.61 102.68 165.64 102.87C165.66 103.06 165.68 103.34 165.59 103.53C165.49 103.71 165.25 103.85 165.07 103.97C164.88 104.09 164.68 104.19 164.49 104.24C164.29 104.30 164.09 104.33 163.90 104.31C163.70 104.28 163.51 104.20 163.33 104.10C163.15 104.00 162.93 103.86 162.82 103.71C162.72 103.56 162.68 103.37 162.71 103.18C162.74 102.99 162.88 102.78 162.98 102.58C163.07 102.39 163.15 102.17 163.30 102.02C163.44 101.87 163.65 101.74 163.86 101.68C164.07 101.62 164.35 101.64 164.56 101.67C164.76 101.70 164.95 101.75 165.09 101.86C165.24 101.98 165.34 102.20 165.43 102.37Z" fill="none" stroke="#000" stroke-width="0.85" stroke-linejoin="round"/>
<circle cx="164.2" cy="103" r="0.55" fill="#eee"/>
<clipPath id="cA2"><rect x="151.7" y="48.6" width="77.4" height="78.9"/></clipPath>
<g clip-path="url(#cA2)"><ellipse cx="228.6" cy="66.6" rx="1.5" ry="1.9" fill="none" stroke="#333" stroke-width="0.6"/><ellipse cx="228.6" cy="98" rx="1.6" ry="3.3" fill="none" stroke="#333" stroke-width="0.6"/><ellipse cx="228.9" cy="98" rx="0.8" ry="2" fill="none" stroke="#555" stroke-width="0.5"/></g>
<text x="0" y="0" font-size="17.5" font-weight="bold" fill="#000" transform="translate(290.0 15.6) scale(1.02 1)">B</text>
<text x="0" y="0" font-size="14.8" fill="#000" text-anchor="middle" transform="translate(418.6 14.0) scale(0.925 1)">LSK cells</text>
<line x1="328.2" y1="138.6" x2="328.2" y2="47.35" stroke="#000" stroke-width="1.5"/>
<line x1="324.8" y1="137.85" x2="328.2" y2="137.85" stroke="#000" stroke-width="1.5"/>
<text x="324.4" y="142.11" font-size="12" font-weight="bold" text-anchor="end" fill="#000">0</text>
<line x1="324.8" y1="119.94999999999999" x2="328.2" y2="119.94999999999999" stroke="#000" stroke-width="1.5"/>
<text x="324.4" y="124.21" font-size="12" font-weight="bold" text-anchor="end" fill="#000">20</text>
<line x1="324.8" y1="102.05" x2="328.2" y2="102.05" stroke="#000" stroke-width="1.5"/>
<text x="324.4" y="106.31" font-size="12" font-weight="bold" text-anchor="end" fill="#000">40</text>
<line x1="324.8" y1="84.14999999999999" x2="328.2" y2="84.14999999999999" stroke="#000" stroke-width="1.5"/>
<text x="324.4" y="88.41" font-size="12" font-weight="bold" text-anchor="end" fill="#000">60</text>
<line x1="324.8" y1="66.25" x2="328.2" y2="66.25" stroke="#000" stroke-width="1.5"/>
<text x="324.4" y="70.51" font-size="12" font-weight="bold" text-anchor="end" fill="#000">80</text>
<line x1="324.8" y1="48.349999999999994" x2="328.2" y2="48.349999999999994" stroke="#000" stroke-width="1.5"/>
<text x="324.4" y="52.61" font-size="12" font-weight="bold" text-anchor="end" fill="#000">100</text>
<line x1="327.5" y1="137.85" x2="494" y2="137.85" stroke="#000" stroke-width="1.5"/>
<line x1="355.5" y1="137.85" x2="355.5" y2="140.85" stroke="#000" stroke-width="1.5"/>
<line x1="410.5" y1="137.85" x2="410.5" y2="140.85" stroke="#000" stroke-width="1.5"/>
<line x1="466.3" y1="137.85" x2="466.3" y2="140.85" stroke="#000" stroke-width="1.5"/>
<text x="291.6" y="89.1" font-size="12.5" font-weight="bold" text-anchor="middle" fill="#000" transform="rotate(-90 291.6 89.1)">%</text>
<line x1="345.3" y1="75" x2="345.3" y2="69.3" stroke="#000" stroke-width="1.4"/>
<line x1="341.5" y1="69.3" x2="349.1" y2="69.3" stroke="#000" stroke-width="1.4"/>
<rect x="338.20" y="74.20" width="14.60" height="63.65" fill="#000" stroke="none" stroke-width="0"/>
<line x1="366.3" y1="86" x2="366.3" y2="77.3" stroke="#000" stroke-width="1.4"/>
<line x1="362.5" y1="77.3" x2="370.1" y2="77.3" stroke="#000" stroke-width="1.4"/>
<rect x="359.75" y="86.25" width="13.10" height="51.60" fill="#fff" stroke="#000" stroke-width="1.5"/>
<line x1="400.5" y1="115" x2="400.5" y2="110" stroke="#000" stroke-width="1.4"/>
<line x1="396.7" y1="110" x2="404.3" y2="110" stroke="#000" stroke-width="1.4"/>
<rect x="393.00" y="114.80" width="15.00" height="23.05" fill="#000" stroke="none" stroke-width="0"/>
<line x1="421.5" y1="103" x2="421.5" y2="94" stroke="#000" stroke-width="1.4"/>
<line x1="417.7" y1="94" x2="425.3" y2="94" stroke="#000" stroke-width="1.4"/>
<rect x="415.15" y="102.95" width="12.70" height="34.90" fill="#fff" stroke="#000" stroke-width="1.5"/>
<line x1="456.5" y1="136" x2="456.5" y2="132.5" stroke="#000" stroke-width="1.4"/>
<line x1="452.7" y1="132.5" x2="460.3" y2="132.5" stroke="#000" stroke-width="1.4"/>
<rect x="449.00" y="135.30" width="14.70" height="2.55" fill="#000" stroke="none" stroke-width="0"/>
<line x1="476.7" y1="137" x2="476.7" y2="136" stroke="#000" stroke-width="1.4"/>
<line x1="472.9" y1="136" x2="480.5" y2="136" stroke="#000" stroke-width="1.4"/>
<rect x="470.35" y="137.15" width="12.70" height="0.70" fill="#fff" stroke="#000" stroke-width="1.5"/>
<text x="366.0" y="76.46" font-size="9.5" font-weight="bold" text-anchor="middle" fill="#111">*</text>
<text x="421.0" y="92.96" font-size="9.5" font-weight="bold" text-anchor="middle" fill="#111">*</text>
<text x="355" y="151.2" font-size="10.4" font-weight="bold" text-anchor="middle" fill="#111">G0-G1</text>
<text x="410.5" y="151.2" font-size="10.4" font-weight="bold" text-anchor="middle" fill="#111">S</text>
<text x="466" y="151.2" font-size="10.4" font-weight="bold" text-anchor="middle" fill="#111">G2-M</text>
<rect x="463.20" y="46.00" width="9.90" height="8.10" fill="#000" stroke="none" stroke-width="0"/>
<rect x="463.90" y="58.60" width="8.50" height="6.70" fill="#fff" stroke="#000" stroke-width="1.4"/>
<text x="0" y="0" font-size="10.28" text-anchor="start" fill="#000" transform="translate(478.0 53.1) scale(0.943 1)">fl/fl:cre-</text>
<text x="0" y="0" font-size="10.28" text-anchor="start" fill="#000" transform="translate(478.0 65.0) scale(0.943 1)">fl/fl:cre+</text>
<text x="0" y="0" font-size="17.5" font-weight="bold" fill="#000" transform="translate(2.5 202.8) scale(1.02 1)">C</text>
<text x="0" y="0" font-size="14.8" fill="#000" transform="translate(103.4 209.4) scale(0.925 1)">CD34<tspan font-size="8.5" dy="-6">-</tspan><tspan dy="6">LSK cells</tspan></text>
<line x1="62.7" y1="318.0" x2="62.7" y2="228.60000000000002" stroke="#000" stroke-width="1.4"/>
<line x1="59.6" y1="317.3" x2="62.7" y2="317.3" stroke="#000" stroke-width="1.4"/>
<text x="58.4" y="321.42" font-size="11.6" font-weight="bold" text-anchor="end" fill="#000">0</text>
<line x1="59.6" y1="299.79" x2="62.7" y2="299.79" stroke="#000" stroke-width="1.4"/>
<text x="58.4" y="303.91" font-size="11.6" font-weight="bold" text-anchor="end" fill="#000">20</text>
<line x1="59.6" y1="282.28000000000003" x2="62.7" y2="282.28000000000003" stroke="#000" stroke-width="1.4"/>
<text x="58.4" y="286.4" font-size="11.6" font-weight="bold" text-anchor="end" fill="#000">40</text>
<line x1="59.6" y1="264.77000000000004" x2="62.7" y2="264.77000000000004" stroke="#000" stroke-width="1.4"/>
<text x="58.4" y="268.89" font-size="11.6" font-weight="bold" text-anchor="end" fill="#000">60</text>
<line x1="59.6" y1="247.26000000000002" x2="62.7" y2="247.26000000000002" stroke="#000" stroke-width="1.4"/>
<text x="58.4" y="251.38" font-size="11.6" font-weight="bold" text-anchor="end" fill="#000">80</text>
<line x1="59.6" y1="229.75" x2="62.7" y2="229.75" stroke="#000" stroke-width="1.4"/>
<text x="58.4" y="233.87" font-size="11.6" font-weight="bold" text-anchor="end" fill="#000">100</text>
<line x1="62.0" y1="317.3" x2="230.5" y2="317.3" stroke="#000" stroke-width="1.4"/>
<line x1="90" y1="317.3" x2="90" y2="320.3" stroke="#000" stroke-width="1.4"/>
<line x1="146.2" y1="317.3" x2="146.2" y2="320.3" stroke="#000" stroke-width="1.4"/>
<line x1="201.7" y1="317.3" x2="201.7" y2="320.3" stroke="#000" stroke-width="1.4"/>
<text x="25.12" y="269.9" font-size="12" font-weight="bold" text-anchor="middle" fill="#000" transform="rotate(-90 25.12 269.9)">%</text>
<line x1="80" y1="289.5" x2="80" y2="288.2" stroke="#000" stroke-width="1.1"/>
<line x1="77.0" y1="288.2" x2="83.0" y2="288.2" stroke="#000" stroke-width="1.1"/>
<rect x="72.40" y="289.00" width="15.00" height="28.30" fill="#000" stroke="none" stroke-width="0"/>
<line x1="100.6" y1="298.8" x2="100.6" y2="297.8" stroke="#000" stroke-width="1.1"/>
<line x1="97.6" y1="297.8" x2="103.6" y2="297.8" stroke="#000" stroke-width="1.1"/>
<rect x="94.05" y="299.15" width="13.20" height="18.15" fill="#fff" stroke="#000" stroke-width="1.5"/>
<line x1="135.6" y1="259.3" x2="135.6" y2="258.2" stroke="#000" stroke-width="1.1"/>
<line x1="132.6" y1="258.2" x2="138.6" y2="258.2" stroke="#000" stroke-width="1.1"/>
<rect x="128.20" y="258.90" width="14.80" height="58.40" fill="#000" stroke="none" stroke-width="0"/>
<rect x="150.25" y="251.25" width="12.70" height="66.05" fill="#fff" stroke="#000" stroke-width="1.5"/>
<line x1="191.3" y1="315.6" x2="191.3" y2="314.8" stroke="#000" stroke-width="1.1"/>
<line x1="188.3" y1="314.8" x2="194.3" y2="314.8" stroke="#000" stroke-width="1.1"/>
<rect x="184.20" y="315.30" width="14.20" height="2.00" fill="#000" stroke="none" stroke-width="0"/>
<line x1="212.3" y1="315.6" x2="212.3" y2="314.5" stroke="#000" stroke-width="1.1"/>
<line x1="209.3" y1="314.5" x2="215.3" y2="314.5" stroke="#000" stroke-width="1.1"/>
<rect x="205.55" y="315.95" width="13.40" height="1.35" fill="#fff" stroke="#000" stroke-width="1.5"/>
<text x="100.2" y="290.5" font-size="8.4" font-weight="bold" text-anchor="middle" fill="#222">***</text>
<text x="156.6" y="244.1" font-size="8.4" font-weight="bold" text-anchor="middle" fill="#222">***</text>
<text x="90.4" y="330.0" font-size="10.7" font-weight="bold" text-anchor="middle" fill="#111">G0-G1</text>
<text x="145.5" y="330.0" font-size="10.7" font-weight="bold" text-anchor="middle" fill="#111">S</text>
<text x="202.5" y="330.0" font-size="10.7" font-weight="bold" text-anchor="middle" fill="#111">G2-M</text>
<rect x="198.60" y="226.40" width="10.20" height="8.20" fill="#000" stroke="none" stroke-width="0"/>
<rect x="199.30" y="239.10" width="8.80" height="6.80" fill="#fff" stroke="#000" stroke-width="1.4"/>
<text x="0" y="0" font-size="10.39" text-anchor="start" fill="#000" transform="translate(213.5 233.8) scale(0.943 1)">fl/fl:cre-</text>
<text x="0" y="0" font-size="10.39" text-anchor="start" fill="#000" transform="translate(213.5 245.7) scale(0.943 1)">fl/fl:cre+</text>
<text x="0" y="0" font-size="17.5" font-weight="bold" fill="#000" transform="translate(290.3 202.6) scale(1.02 1)">D</text>
<line x1="329.4" y1="316.15" x2="329.4" y2="213.85" stroke="#000" stroke-width="1.5"/>
<line x1="326.0" y1="315.4" x2="329.4" y2="315.4" stroke="#000" stroke-width="1.5"/>
<text x="324.9" y="319.41" font-size="11.3" font-weight="bold" text-anchor="end" fill="#000">0</text>
<line x1="326.0" y1="290.65" x2="329.4" y2="290.65" stroke="#000" stroke-width="1.5"/>
<text x="324.9" y="294.66" font-size="11.3" font-weight="bold" text-anchor="end" fill="#000">5</text>
<line x1="326.0" y1="265.49999999999994" x2="329.4" y2="265.49999999999994" stroke="#000" stroke-width="1.5"/>
<text x="324.9" y="269.51" font-size="11.3" font-weight="bold" text-anchor="end" fill="#000">10</text>
<line x1="326.0" y1="240.34999999999997" x2="329.4" y2="240.34999999999997" stroke="#000" stroke-width="1.5"/>
<text x="324.9" y="244.36" font-size="11.3" font-weight="bold" text-anchor="end" fill="#000">15</text>
<line x1="326.0" y1="215.19999999999993" x2="329.4" y2="215.19999999999993" stroke="#000" stroke-width="1.5"/>
<text x="324.9" y="219.21" font-size="11.3" font-weight="bold" text-anchor="end" fill="#000">20</text>
<line x1="328.7" y1="315.4" x2="485.6" y2="315.4" stroke="#000" stroke-width="1.5"/>
<line x1="355" y1="315.4" x2="355" y2="318.4" stroke="#000" stroke-width="1.5"/>
<line x1="406.7" y1="315.4" x2="406.7" y2="318.4" stroke="#000" stroke-width="1.5"/>
<line x1="458.6" y1="315.4" x2="458.6" y2="318.4" stroke="#000" stroke-width="1.5"/>
<text x="305.93" y="263.4" font-size="12.3" font-weight="bold" text-anchor="middle" fill="#000" transform="rotate(-90 305.93 263.4)">%annexin V+</text>
<line x1="345" y1="311.8" x2="345" y2="310.3" stroke="#000" stroke-width="1.2"/>
<line x1="341.3" y1="310.3" x2="348.7" y2="310.3" stroke="#000" stroke-width="1.2"/>
<rect x="337.80" y="311.30" width="14.20" height="4.10" fill="#000" stroke="none" stroke-width="0"/>
<line x1="365" y1="309" x2="365" y2="306.4" stroke="#000" stroke-width="1.2"/>
<line x1="361.3" y1="306.4" x2="368.7" y2="306.4" stroke="#000" stroke-width="1.2"/>
<rect x="358.65" y="309.45" width="12.60" height="5.95" fill="#fff" stroke="#000" stroke-width="1.5"/>
<line x1="397" y1="312.5" x2="397" y2="311.6" stroke="#000" stroke-width="1.2"/>
<line x1="393.3" y1="311.6" x2="400.7" y2="311.6" stroke="#000" stroke-width="1.2"/>
<rect x="390.00" y="312.20" width="14.00" height="3.20" fill="#000" stroke="none" stroke-width="0"/>
<line x1="416.8" y1="260.5" x2="416.8" y2="220.3" stroke="#000" stroke-width="1.2"/>
<line x1="413.1" y1="220.3" x2="420.5" y2="220.3" stroke="#000" stroke-width="1.2"/>
<rect x="410.75" y="260.65" width="11.90" height="54.75" fill="#fff" stroke="#000" stroke-width="1.5"/>
<line x1="449.2" y1="313" x2="449.2" y2="312" stroke="#000" stroke-width="1.2"/>
<line x1="445.5" y1="312" x2="452.9" y2="312" stroke="#000" stroke-width="1.2"/>
<rect x="442.00" y="312.60" width="14.30" height="2.80" fill="#000" stroke="none" stroke-width="0"/>
<line x1="468.1" y1="283" x2="468.1" y2="258.9" stroke="#000" stroke-width="1.2"/>
<line x1="464.40000000000003" y1="258.9" x2="471.8" y2="258.9" stroke="#000" stroke-width="1.2"/>
<rect x="462.15" y="283.25" width="11.90" height="32.15" fill="#fff" stroke="#000" stroke-width="1.5"/>
<text x="417.2" y="219.19" font-size="11.5" font-weight="bold" text-anchor="middle" fill="#111">*</text>
<text x="468.1" y="257.29" font-size="11.5" font-weight="bold" text-anchor="middle" fill="#111">*</text>
<text x="358.1" y="327.7" font-size="10.2" font-weight="bold" text-anchor="middle" fill="#111">lineage-</text>
<text x="411.6" y="327.7" font-size="10.3" font-weight="bold" text-anchor="middle" fill="#111">LKSca1-</text>
<text x="459" y="327.7" font-size="10" font-weight="bold" text-anchor="middle" fill="#111">LSK</text>
<rect x="460.40" y="218.70" width="12.60" height="9.20" fill="#000" stroke="none" stroke-width="0"/>
<rect x="461.10" y="231.10" width="11.20" height="7.80" fill="#fff" stroke="#000" stroke-width="1.4"/>
<text x="0" y="0" font-size="11.77" text-anchor="start" fill="#000" transform="translate(479.0 226.6) scale(0.943 1)">fl/fl:cre-</text>
<text x="0" y="0" font-size="11.77" text-anchor="start" fill="#000" transform="translate(479.0 238.2) scale(0.943 1)">fl/fl:cre+</text>
<text x="0" y="0" font-size="17.5" font-weight="bold" fill="#000" transform="translate(2.5 375.8) scale(1.02 1)">E</text>
<text x="0" y="0" font-size="14.8" fill="#000" transform="translate(104.6 364.2) scale(0.925 1)">CD34<tspan font-size="8.5" dy="-6">-</tspan><tspan dy="6">LSK gated</tspan></text>
<text x="0" y="0" font-size="11.3" text-anchor="start" fill="#000" transform="translate(74.9 379.7) scale(0.96 1)">fl/fl:cre-</text>
<text x="0" y="0" font-size="11.3" text-anchor="start" fill="#000" transform="translate(176.8 379.7) scale(0.96 1)">fl/fl:cre+</text>
<text x="22.2" y="426" font-size="10.1" text-anchor="middle" fill="#000" transform="rotate(-90 22.2 426)">Annexin V</text>
<text x="137.0" y="500.0" font-size="10" text-anchor="middle" fill="#000">7-AAD</text>
<line x1="31.2" y1="465.6" x2="31.2" y2="394" stroke="#000" stroke-width="1.4"/>
<path d="M31.2 390.4 L29.0 395.4 L33.4 395.4Z" fill="#000"/>
<line x1="52.7" y1="484.1" x2="216" y2="484.1" stroke="#000" stroke-width="1.5"/>
<path d="M221.6 484.1 L215.5 481.6 L215.5 486.6Z" fill="#000"/>
<clipPath id="cE1"><rect x="46.2" y="389.3" width="82.4" height="78.9"/></clipPath><clipPath id="cE2"><rect x="154.3" y="391" width="83.6" height="77.3"/></clipPath>
<rect x="46.20" y="389.30" width="82.40" height="78.90" fill="none" stroke="#555" stroke-width="0.75"/>
<text x="41.800000000000004" y="398.2" font-size="3.8" text-anchor="end" fill="#151515">10</text>
<text x="41.800000000000004" y="396.40000000000003" font-size="2.4" text-anchor="start" fill="#151515">5</text>
<line x1="44.6" y1="396.8" x2="46.2" y2="396.8" stroke="#555" stroke-width="0.5"/>
<text x="41.800000000000004" y="416.0" font-size="3.8" text-anchor="end" fill="#151515">10</text>
<text x="41.800000000000004" y="414.20000000000005" font-size="2.4" text-anchor="start" fill="#151515">4</text>
<line x1="44.6" y1="414.6" x2="46.2" y2="414.6" stroke="#555" stroke-width="0.5"/>
<text x="41.800000000000004" y="434.79999999999995" font-size="3.8" text-anchor="end" fill="#151515">10</text>
<text x="41.800000000000004" y="433.0" font-size="2.4" text-anchor="start" fill="#151515">3</text>
<line x1="44.6" y1="433.4" x2="46.2" y2="433.4" stroke="#555" stroke-width="0.5"/>
<text x="41.800000000000004" y="453.5" font-size="3.8" text-anchor="end" fill="#151515">10</text>
<text x="41.800000000000004" y="451.70000000000005" font-size="2.4" text-anchor="start" fill="#151515">2</text>
<line x1="44.6" y1="452.1" x2="46.2" y2="452.1" stroke="#555" stroke-width="0.5"/>
<text x="41.800000000000004" y="462.3" font-size="3.8" text-anchor="end" fill="#151515">0</text>
<text x="54.7" y="475.8" font-size="3.8" text-anchor="middle" fill="#151515">0</text>
<line x1="54.7" y1="468.2" x2="54.7" y2="469.8" stroke="#555" stroke-width="0.5"/>
<text x="64.2" y="475.8" font-size="3.8" text-anchor="end" fill="#151515">10</text>
<text x="64.2" y="474.0" font-size="2.4" text-anchor="start" fill="#151515">2</text>
<line x1="63.6" y1="468.2" x2="63.6" y2="469.8" stroke="#555" stroke-width="0.5"/>
<text x="83.6" y="475.8" font-size="3.8" text-anchor="end" fill="#151515">10</text>
<text x="83.6" y="474.0" font-size="2.4" text-anchor="start" fill="#151515">3</text>
<line x1="83" y1="468.2" x2="83" y2="469.8" stroke="#555" stroke-width="0.5"/>
<text x="104.1" y="475.8" font-size="3.8" text-anchor="end" fill="#151515">10</text>
<text x="104.1" y="474.0" font-size="2.4" text-anchor="start" fill="#151515">4</text>
<line x1="103.5" y1="468.2" x2="103.5" y2="469.8" stroke="#555" stroke-width="0.5"/>
<text x="123.1" y="475.8" font-size="3.8" text-anchor="end" fill="#151515">10</text>
<text x="123.1" y="474.0" font-size="2.4" text-anchor="start" fill="#151515">5</text>
<line x1="122.5" y1="468.2" x2="122.5" y2="469.8" stroke="#555" stroke-width="0.5"/>
<line x1="46.2" y1="469.0" x2="128.6" y2="469.0" stroke="#777" stroke-width="1.1" stroke-dasharray="0.5 1.6"/>
<line x1="45.400000000000006" y1="389.3" x2="45.400000000000006" y2="468.2" stroke="#777" stroke-width="1.1" stroke-dasharray="0.5 1.6"/>
<line x1="94.3" y1="389.3" x2="94.3" y2="468.2" stroke="#666" stroke-width="0.65"/>
<line x1="46.2" y1="417.2" x2="128.6" y2="417.2" stroke="#666" stroke-width="0.65"/>
<g clip-path="url(#cE1)">
<path d="M88.7 400.8h0.6M50.3 396.4h0.6M48.3 394.4h0.6M90.4 402.0h0.6M78.3 405.2h0.6M89.9 402.0h0.6M76.4 402.3h0.6M80.0 401.7h0.6M79.3 394.8h0.6M78.7 399.2h0.6M83.1 392.8h0.6M56.3 391.7h0.6M83.6 407.5h0.6M78.2 397.6h0.6M85.8 405.2h0.6M73.9 395.6h0.6M61.9 398.6h0.6M62.6 398.8h0.6M77.5 407.8h0.6M50.5 401.2h0.6M49.8 393.1h0.6M85.3 401.4h0.6M90.3 399.0h0.6M48.7 398.0h0.6M75.2 407.9h0.6M93.1 399.6h0.6M67.0 392.8h0.6M77.6 394.8h0.6M55.0 391.3h0.6M48.2 403.3h0.6M53.6 408.4h0.6M52.1 406.7h0.6M53.9 391.3h0.6M81.1 395.4h0.6M81.7 394.4h0.6M50.3 404.9h0.6M80.8 406.4h0.6M81.6 392.5h0.6M76.9 403.8h0.6M69.2 407.8h0.6M59.7 408.4h0.6M81.0 391.2h0.6M48.7 402.7h0.6M85.6 392.4h0.6M62.3 404.1h0.6M55.6 406.5h0.6M70.4 392.1h0.6M64.9 401.3h0.6M68.2 403.2h0.6M54.7 405.4h0.6M64.7 402.6h0.6M77.0 398.5h0.6M65.7 405.2h0.6M91.5 405.1h0.6M74.1 396.3h0.6M50.8 408.5h0.6M80.4 405.9h0.6M63.3 401.9h0.6M93.0 406.0h0.6M75.7 396.6h0.6M67.7 407.0h0.6M65.3 403.3h0.6M75.7 407.1h0.6M85.1 396.1h0.6M48.1 395.7h0.6M67.4 401.6h0.6M85.5 407.0h0.6M49.9 406.0h0.6M85.3 406.6h0.6M74.3 395.9h0.6" stroke="#c0c0c0" stroke-width="0.6" fill="none"/>
<path d="M87.7 414.5h0.6M80.8 415.9h0.6M66.6 405.1h0.6M75.3 414.4h0.6M60.4 413.8h0.6M91.1 407.0h0.6M77.5 412.8h0.6M71.5 406.7h0.6M62.7 413.8h0.6M85.2 410.0h0.6M55.7 414.5h0.6M84.4 407.0h0.6M76.3 415.7h0.6M89.2 410.8h0.6M72.0 411.7h0.6M59.9 406.5h0.6M59.6 413.1h0.6M67.2 411.3h0.6M68.9 410.7h0.6M58.3 404.6h0.6M93.9 408.9h0.6M56.5 412.2h0.6M85.1 406.0h0.6M77.1 408.5h0.6M73.8 404.3h0.6M53.4 416.9h0.6M88.4 410.3h0.6M75.8 407.4h0.6M84.7 409.5h0.6M91.8 414.0h0.6M86.4 416.5h0.6M62.7 404.5h0.6M60.4 406.3h0.6M55.5 404.7h0.6M75.4 415.3h0.6M71.2 416.3h0.6M90.2 404.8h0.6M77.1 409.2h0.6M57.0 416.5h0.6M62.8 411.3h0.6M78.9 416.4h0.6M80.1 409.1h0.6M70.8 406.1h0.6M92.6 416.9h0.6M61.3 404.5h0.6M62.7 408.6h0.6M89.9 415.8h0.6M87.2 404.6h0.6M85.0 413.2h0.6M79.2 416.8h0.6M54.3 405.9h0.6M83.7 416.2h0.6M80.4 407.9h0.6M76.8 413.9h0.6M56.4 408.2h0.6M62.8 405.6h0.6M72.2 406.2h0.6M62.0 405.9h0.6M80.5 404.2h0.6M82.1 406.5h0.6" stroke="#a8a8a8" stroke-width="0.6" fill="none"/>
<path d="M78.6 463.5h0.6M81.5 463.8h0.6M91.9 461.5h0.6M80.2 439.9h0.6M79.6 463.5h0.6M91.5 448.8h0.6M85.2 434.6h0.6M91.2 441.4h0.6M88.1 425.0h0.6M81.5 420.8h0.6M89.4 445.1h0.6M80.3 460.7h0.6M82.3 438.2h0.6M80.5 431.3h0.6M91.4 434.4h0.6M80.7 442.1h0.6M83.1 462.3h0.6M79.8 466.0h0.6M78.9 461.9h0.6M88.7 428.3h0.6M85.6 432.0h0.6M82.1 427.9h0.6M83.8 466.6h0.6M94.0 463.3h0.6M79.6 432.2h0.6M92.3 420.8h0.6M89.6 432.4h0.6M93.7 418.8h0.6M90.9 434.7h0.6M80.2 418.1h0.6M91.3 443.8h0.6M81.0 439.3h0.6M92.6 428.7h0.6M87.1 424.8h0.6M80.9 455.8h0.6M89.4 427.6h0.6M79.3 422.3h0.6M87.7 442.3h0.6M82.4 428.1h0.6M87.8 452.7h0.6M91.0 446.6h0.6M81.2 421.2h0.6M89.7 438.0h0.6M89.5 420.7h0.6M91.0 434.4h0.6" stroke="#bbb" stroke-width="0.6" fill="none"/>
<path d="M109.5 412.7h0.6M103.9 392.4h0.6M110.6 403.4h0.6M110.0 398.4h0.6M99.0 412.0h0.6M101.9 395.9h0.6M101.9 406.3h0.6M96.1 404.5h0.6M103.1 404.4h0.6M97.9 409.2h0.6M109.1 412.8h0.6M101.1 409.1h0.6M102.1 410.0h0.6M97.0 412.9h0.6M111.3 403.9h0.6M104.2 404.7h0.6M104.6 392.5h0.6M111.5 397.4h0.6M98.9 394.5h0.6M100.0 411.6h0.6M96.5 394.3h0.6M107.2 396.7h0.6M96.3 406.4h0.6M105.2 404.5h0.6M107.2 394.5h0.6" stroke="#bbb" stroke-width="0.6" fill="none"/>
<path d="M76.1 450.2h0.6M51.4 416.9h0.6M64.8 438.0h0.6M58.4 416.8h0.6M62.2 417.7h0.6M67.8 458.2h0.6M54.4 442.1h0.6M72.4 419.2h0.6M74.8 462.5h0.6M61.7 433.5h0.6M75.2 439.4h0.6M61.9 462.7h0.6M73.3 429.0h0.6M57.2 428.8h0.6M63.1 464.9h0.6M74.1 461.1h0.6M74.5 457.5h0.6M51.6 439.0h0.6M78.7 462.3h0.6M57.5 433.6h0.6M69.0 430.4h0.6M65.9 413.9h0.6M63.0 438.3h0.6M50.6 417.8h0.6M79.1 453.5h0.6M78.1 445.5h0.6M74.3 459.5h0.6M76.5 411.9h0.6M69.2 424.9h0.6M70.4 425.3h0.6M66.3 461.8h0.6M68.6 424.0h0.6M65.6 434.3h0.6M78.5 426.1h0.6M59.2 446.3h0.6M53.6 443.3h0.6M78.7 438.8h0.6M58.1 436.1h0.6M66.0 418.3h0.6M53.7 417.4h0.6M58.8 432.8h0.6M58.6 423.6h0.6M52.6 440.6h0.6M75.2 444.2h0.6M67.1 446.4h0.6M56.0 449.8h0.6M63.8 440.7h0.6M68.4 436.3h0.6M59.3 423.6h0.6M56.6 438.7h0.6M61.5 442.8h0.6M50.4 429.7h0.6M75.9 423.4h0.6M66.7 437.5h0.6M58.5 465.3h0.6M58.9 453.2h0.6M54.8 413.7h0.6M76.1 434.6h0.6M51.9 431.7h0.6M63.2 451.2h0.6M53.3 422.6h0.6M78.8 451.4h0.6M54.6 428.9h0.6M60.6 447.8h0.6M68.5 457.6h0.6M74.6 439.0h0.6M72.2 451.6h0.6M72.8 436.6h0.6M73.5 449.7h0.6M77.4 417.1h0.6" stroke="#666" stroke-width="0.6" fill="none"/>
<path d="M46.80 412.20C47.83 402.93 50.87 412.40 53.00 412.60C55.13 412.80 57.68 413.77 59.60 413.40C61.52 413.03 62.85 411.18 64.50 410.40C66.15 409.62 67.92 409.00 69.50 408.70C71.08 408.40 72.65 408.42 74.00 408.60C75.35 408.78 76.70 408.90 77.60 409.80C78.50 410.70 79.23 412.47 79.40 414.00C79.57 415.53 79.07 417.42 78.60 419.00C78.13 420.58 76.83 421.43 76.60 423.50C76.37 425.57 76.77 428.77 77.20 431.40C77.63 434.03 78.97 437.03 79.20 439.30C79.43 441.57 79.07 443.05 78.60 445.00C78.13 446.95 77.08 449.08 76.40 451.00C75.72 452.92 74.70 454.50 74.50 456.50C74.30 458.50 74.55 461.08 75.20 463.00C75.85 464.92 80.93 467.13 78.40 468.00C75.87 468.87 65.27 468.17 60.00 468.20C54.73 468.23 49.00 477.53 46.80 468.20C44.60 458.87 45.77 421.47 46.80 412.20Z" fill="none" stroke="#555" stroke-width="0.45" stroke-linejoin="round"/>
<path d="M47.50 416.50C48.75 408.10 52.75 415.62 55.00 415.60C57.25 415.58 59.17 416.75 61.00 416.40C62.83 416.05 64.33 414.13 66.00 413.50C67.67 412.87 69.57 412.45 71.00 412.60C72.43 412.75 73.87 413.25 74.60 414.40C75.33 415.55 75.47 417.73 75.40 419.50C75.33 421.27 74.23 422.92 74.20 425.00C74.17 427.08 74.70 429.62 75.20 432.00C75.70 434.38 77.00 436.97 77.20 439.30C77.40 441.63 76.97 443.88 76.40 446.00C75.83 448.12 74.50 450.00 73.80 452.00C73.10 454.00 72.40 456.00 72.20 458.00C72.00 460.00 74.63 462.67 72.60 464.00C70.57 465.33 64.18 465.67 60.00 466.00C55.82 466.33 49.58 474.25 47.50 466.00C45.42 457.75 46.25 424.90 47.50 416.50Z" fill="none" stroke="#555" stroke-width="0.45" stroke-linejoin="round"/>
<path d="M50.80 420.60C51.80 413.44 54.35 420.01 56.21 420.07C58.08 420.13 60.19 421.19 62.00 420.97C63.81 420.75 65.44 418.88 67.06 418.73C68.68 418.59 70.72 419.07 71.73 420.10C72.73 421.13 72.78 422.93 73.09 424.90C73.39 426.88 73.11 429.59 73.56 431.97C74.01 434.34 75.62 436.79 75.78 439.13C75.94 441.48 75.26 443.92 74.51 446.04C73.77 448.16 72.05 449.82 71.31 451.86C70.56 453.90 70.38 456.43 70.03 458.28C69.68 460.13 71.25 462.03 69.20 462.96C67.15 463.88 60.91 463.83 57.75 463.84C54.58 463.86 51.37 470.27 50.22 463.06C49.06 455.85 49.80 427.77 50.80 420.60Z" fill="none" stroke="#484848" stroke-width="0.45" stroke-linejoin="round"/>
<path d="M51.94 422.87C52.79 416.47 55.37 422.13 57.11 422.17C58.85 422.21 60.75 423.31 62.38 423.11C64.02 422.92 65.57 421.11 66.93 421.01C68.28 420.90 69.74 421.56 70.51 422.46C71.27 423.36 71.18 424.64 71.51 426.40C71.84 428.15 71.98 430.77 72.49 432.99C72.99 435.21 74.41 437.56 74.55 439.71C74.70 441.85 74.03 444.00 73.35 445.85C72.68 447.70 71.18 449.10 70.49 450.80C69.80 452.50 69.55 454.40 69.20 456.04C68.85 457.68 70.20 459.69 68.40 460.66C66.61 461.62 61.16 461.84 58.43 461.83C55.70 461.82 53.10 467.09 52.02 460.60C50.93 454.11 51.09 429.28 51.94 422.87Z" fill="none" stroke="#484848" stroke-width="0.45" stroke-linejoin="round"/>
<path d="M52.93 425.30C53.68 419.75 55.90 424.65 57.46 424.67C59.02 424.68 60.77 425.56 62.28 425.39C63.78 425.23 65.27 423.81 66.49 423.67C67.71 423.54 68.80 423.78 69.58 424.56C70.37 425.35 70.91 426.78 71.20 428.39C71.48 430.01 71.06 432.38 71.29 434.23C71.52 436.09 72.37 437.71 72.56 439.53C72.75 441.35 72.93 443.54 72.43 445.16C71.93 446.78 70.20 447.73 69.56 449.27C68.93 450.81 68.86 452.86 68.62 454.41C68.37 455.96 69.63 457.81 68.09 458.55C66.56 459.30 61.93 458.97 59.41 458.88C56.89 458.78 54.06 463.59 52.98 457.99C51.89 452.40 52.18 430.85 52.93 425.30Z" fill="none" stroke="#484848" stroke-width="0.45" stroke-linejoin="round"/>
<path d="M75.68 440.80C75.56 442.70 75.34 444.63 74.86 446.31C74.37 447.98 73.47 449.35 72.78 450.85C72.09 452.34 71.64 453.97 70.73 455.29C69.82 456.62 68.55 458.24 67.32 458.81C66.09 459.38 64.54 459.30 63.33 458.69C62.13 458.08 61.03 456.40 60.10 455.14C59.17 453.88 58.39 452.59 57.72 451.14C57.06 449.69 56.54 448.21 56.12 446.46C55.70 444.70 55.36 442.53 55.19 440.61C55.02 438.68 54.80 436.79 55.08 434.91C55.37 433.03 56.08 430.92 56.90 429.34C57.71 427.76 58.83 426.06 59.96 425.44C61.09 424.83 62.47 425.64 63.68 425.63C64.89 425.63 66.05 425.46 67.24 425.40C68.43 425.34 69.72 424.67 70.81 425.26C71.91 425.85 73.05 427.35 73.84 428.96C74.63 430.57 75.25 432.92 75.56 434.90C75.86 436.87 75.79 438.90 75.68 440.80Z" fill="none" stroke="#383838" stroke-width="0.5" stroke-linejoin="round"/>
<path d="M75.01 440.82C74.97 442.54 74.52 444.21 73.99 445.74C73.47 447.26 72.48 448.66 71.85 449.98C71.22 451.30 70.97 452.45 70.24 453.65C69.51 454.85 68.54 456.67 67.45 457.19C66.37 457.70 64.78 457.30 63.73 456.73C62.69 456.17 61.95 454.91 61.16 453.78C60.38 452.65 59.70 451.24 59.02 449.94C58.34 448.63 57.55 447.47 57.08 445.94C56.61 444.41 56.25 442.50 56.18 440.76C56.12 439.02 56.36 437.20 56.69 435.48C57.02 433.76 57.50 431.81 58.15 430.43C58.80 429.05 59.63 427.68 60.60 427.22C61.56 426.76 62.90 427.71 63.95 427.69C65.01 427.67 65.87 427.22 66.92 427.11C67.97 427.00 69.23 426.47 70.25 427.02C71.27 427.58 72.38 429.03 73.05 430.42C73.71 431.81 73.91 433.65 74.24 435.38C74.57 437.11 75.05 439.09 75.01 440.82Z" fill="none" stroke="#383838" stroke-width="0.5" stroke-linejoin="round"/>
<path d="M73.95 440.82C73.88 442.30 73.38 443.84 72.93 445.14C72.49 446.45 71.87 447.44 71.29 448.62C70.71 449.81 70.15 451.22 69.45 452.28C68.76 453.34 67.99 454.58 67.13 454.97C66.26 455.36 65.18 455.05 64.25 454.62C63.32 454.19 62.32 453.34 61.55 452.40C60.77 451.45 60.12 450.11 59.60 448.95C59.08 447.78 58.80 446.76 58.43 445.41C58.07 444.06 57.51 442.37 57.41 440.82C57.31 439.28 57.54 437.65 57.85 436.13C58.16 434.61 58.63 432.90 59.27 431.71C59.90 430.52 60.82 429.41 61.65 428.98C62.49 428.55 63.42 429.15 64.27 429.13C65.13 429.12 65.87 428.93 66.80 428.89C67.73 428.86 68.92 428.44 69.85 428.91C70.77 429.38 71.76 430.49 72.34 431.71C72.93 432.94 73.10 434.77 73.37 436.28C73.63 437.80 74.03 439.34 73.95 440.82Z" fill="none" stroke="#383838" stroke-width="0.5" stroke-linejoin="round"/>
<path d="M72.68 441.09C72.61 442.43 72.31 443.64 71.99 444.72C71.66 445.80 71.18 446.61 70.74 447.59C70.30 448.58 69.95 449.69 69.35 450.63C68.76 451.57 68.01 452.84 67.18 453.22C66.36 453.59 65.25 453.31 64.41 452.87C63.58 452.43 62.74 451.42 62.15 450.58C61.56 449.73 61.31 448.82 60.87 447.82C60.43 446.81 59.85 445.70 59.51 444.54C59.17 443.38 58.93 442.16 58.84 440.87C58.75 439.58 58.80 438.09 58.98 436.79C59.16 435.49 59.41 434.10 59.92 433.06C60.43 432.01 61.24 430.90 62.05 430.51C62.86 430.12 63.99 430.69 64.80 430.73C65.60 430.76 66.07 430.72 66.87 430.70C67.67 430.69 68.81 430.27 69.61 430.63C70.41 431.00 71.20 431.90 71.67 432.92C72.14 433.93 72.26 435.35 72.43 436.72C72.59 438.08 72.76 439.76 72.68 441.09Z" fill="none" stroke="#383838" stroke-width="0.5" stroke-linejoin="round"/>
<path d="M71.89 441.05C71.81 442.14 71.49 443.16 71.19 444.11C70.90 445.06 70.54 445.87 70.13 446.74C69.71 447.60 69.23 448.54 68.70 449.31C68.17 450.07 67.63 451.05 66.97 451.31C66.30 451.57 65.32 451.20 64.70 450.86C64.07 450.52 63.69 450.00 63.20 449.29C62.71 448.58 62.22 447.50 61.75 446.61C61.29 445.73 60.69 444.95 60.39 444.00C60.08 443.04 59.97 441.99 59.93 440.89C59.90 439.78 59.96 438.44 60.15 437.37C60.34 436.31 60.64 435.31 61.07 434.50C61.50 433.69 62.08 432.84 62.74 432.52C63.40 432.20 64.37 432.64 65.04 432.59C65.71 432.54 66.08 432.29 66.76 432.21C67.43 432.14 68.48 431.74 69.10 432.13C69.73 432.51 70.07 433.64 70.50 434.53C70.94 435.43 71.46 436.43 71.69 437.52C71.92 438.60 71.97 439.95 71.89 441.05Z" fill="none" stroke="#383838" stroke-width="0.5" stroke-linejoin="round"/>
<path d="M70.61 441.17C70.55 442.04 70.63 442.67 70.41 443.38C70.19 444.09 69.60 444.75 69.28 445.43C68.97 446.12 68.87 446.83 68.51 447.50C68.16 448.17 67.72 449.15 67.13 449.44C66.54 449.72 65.57 449.51 64.99 449.23C64.41 448.95 64.03 448.36 63.66 447.76C63.29 447.16 63.10 446.31 62.75 445.64C62.40 444.98 61.81 444.52 61.56 443.78C61.32 443.04 61.30 442.11 61.29 441.21C61.28 440.31 61.34 439.28 61.52 438.37C61.69 437.47 62.00 436.54 62.35 435.79C62.69 435.04 63.07 434.14 63.57 433.87C64.08 433.59 64.86 434.09 65.40 434.13C65.94 434.18 66.32 434.17 66.82 434.15C67.32 434.13 67.91 433.77 68.39 434.04C68.88 434.31 69.34 435.09 69.73 435.78C70.12 436.48 70.60 437.30 70.75 438.20C70.90 439.09 70.67 440.31 70.61 441.17Z" fill="none" stroke="#383838" stroke-width="0.5" stroke-linejoin="round"/>
<path d="M69.83 441.27C69.82 441.95 69.73 442.52 69.53 443.04C69.33 443.55 68.89 443.86 68.62 444.36C68.35 444.87 68.21 445.57 67.90 446.06C67.58 446.55 67.16 447.10 66.73 447.31C66.31 447.53 65.73 447.56 65.35 447.35C64.98 447.13 64.79 446.45 64.47 446.01C64.15 445.56 63.71 445.13 63.44 444.67C63.18 444.20 63.03 443.82 62.87 443.21C62.72 442.59 62.52 441.71 62.51 440.97C62.50 440.24 62.70 439.48 62.83 438.81C62.96 438.14 63.00 437.46 63.27 436.96C63.54 436.45 64.04 435.99 64.45 435.78C64.86 435.57 65.33 435.70 65.73 435.69C66.13 435.68 66.44 435.71 66.84 435.72C67.23 435.74 67.67 435.58 68.08 435.77C68.48 435.95 69.04 436.31 69.29 436.83C69.54 437.36 69.48 438.19 69.57 438.93C69.66 439.67 69.84 440.58 69.83 441.27Z" fill="none" stroke="#383838" stroke-width="0.5" stroke-linejoin="round"/>
<path d="M68.68 440.91C68.62 441.33 68.57 441.89 68.48 442.32C68.39 442.75 68.34 443.13 68.16 443.49C67.97 443.85 67.60 444.18 67.37 444.50C67.14 444.82 67.05 445.29 66.77 445.41C66.49 445.52 66.02 445.28 65.71 445.18C65.39 445.08 65.05 445.10 64.87 444.80C64.68 444.51 64.73 443.76 64.61 443.40C64.49 443.04 64.27 443.07 64.15 442.66C64.02 442.25 63.90 441.44 63.86 440.93C63.81 440.43 63.83 440.06 63.88 439.63C63.93 439.20 64.00 438.68 64.15 438.35C64.31 438.02 64.50 437.77 64.81 437.64C65.11 437.51 65.64 437.59 65.99 437.56C66.34 437.53 66.65 437.52 66.90 437.47C67.16 437.42 67.30 437.16 67.52 437.27C67.73 437.37 67.97 437.68 68.19 438.10C68.41 438.53 68.75 439.36 68.83 439.83C68.91 440.30 68.74 440.50 68.68 440.91Z" fill="none" stroke="#383838" stroke-width="0.5" stroke-linejoin="round"/>
<path d="M60.96 430.70C60.78 431.48 60.42 431.91 60.11 432.61C59.79 433.30 59.51 434.35 59.05 434.86C58.59 435.37 57.96 435.36 57.34 435.67C56.72 435.97 56.09 436.70 55.33 436.71C54.57 436.72 53.27 436.42 52.77 435.73C52.27 435.03 52.47 433.44 52.33 432.53C52.19 431.62 51.97 431.03 51.93 430.25C51.89 429.46 51.89 428.49 52.10 427.83C52.32 427.17 52.78 426.95 53.23 426.30C53.67 425.64 54.13 423.99 54.77 423.89C55.40 423.78 56.38 425.20 57.04 425.65C57.69 426.10 58.00 426.22 58.70 426.60C59.39 426.97 60.83 427.22 61.20 427.90C61.58 428.58 61.15 429.91 60.96 430.70Z" fill="none" stroke="#505050" stroke-width="0.45" stroke-linejoin="round"/>
<path d="M59.64 430.46C59.51 431.10 59.07 431.72 58.81 432.20C58.56 432.69 58.45 433.07 58.10 433.35C57.76 433.62 57.17 433.64 56.74 433.87C56.32 434.09 55.98 434.71 55.55 434.71C55.11 434.70 54.46 434.29 54.13 433.83C53.81 433.36 53.74 432.49 53.60 431.92C53.47 431.35 53.39 430.96 53.32 430.41C53.25 429.85 53.04 429.08 53.17 428.58C53.31 428.09 53.69 427.80 54.11 427.45C54.53 427.10 55.20 426.44 55.68 426.47C56.16 426.50 56.61 427.36 57.01 427.64C57.41 427.92 57.64 428.02 58.07 428.14C58.51 428.25 59.37 427.95 59.63 428.34C59.89 428.72 59.78 429.81 59.64 430.46Z" fill="none" stroke="#505050" stroke-width="0.45" stroke-linejoin="round"/>
<path d="M58.00 430.57C57.98 430.84 57.59 431.14 57.50 431.38C57.41 431.61 57.60 431.86 57.45 431.99C57.31 432.12 56.91 432.01 56.62 432.14C56.33 432.28 56.03 432.81 55.72 432.81C55.40 432.81 54.83 432.41 54.72 432.14C54.60 431.88 55.07 431.48 55.02 431.22C54.98 430.96 54.50 430.85 54.44 430.60C54.38 430.34 54.54 429.96 54.65 429.68C54.76 429.41 54.93 429.19 55.12 428.95C55.32 428.70 55.63 428.27 55.82 428.22C56.02 428.17 56.03 428.50 56.27 428.68C56.51 428.85 57.03 429.09 57.26 429.27C57.49 429.44 57.52 429.52 57.65 429.73C57.77 429.95 58.03 430.29 58.00 430.57Z" fill="none" stroke="#505050" stroke-width="0.45" stroke-linejoin="round"/>
<path d="M62.99 451.48C62.74 452.42 61.98 453.39 61.34 454.14C60.71 454.90 59.82 455.70 59.18 456.01C58.55 456.31 58.17 455.81 57.51 455.97C56.86 456.13 56.08 456.94 55.25 456.96C54.42 456.99 52.92 456.85 52.54 456.11C52.16 455.37 52.87 453.54 52.97 452.51C53.07 451.49 53.13 450.94 53.14 449.95C53.16 448.97 52.74 447.55 53.05 446.61C53.37 445.66 54.29 444.83 55.03 444.28C55.77 443.73 56.76 443.19 57.48 443.29C58.20 443.39 58.87 444.21 59.35 444.89C59.82 445.57 59.73 446.74 60.32 447.34C60.90 447.94 62.43 447.80 62.88 448.49C63.32 449.18 63.25 450.54 62.99 451.48Z" fill="none" stroke="#484848" stroke-width="0.45" stroke-linejoin="round"/>
<path d="M61.52 451.47C61.35 452.20 60.93 452.47 60.52 452.95C60.11 453.43 59.58 454.04 59.08 454.37C58.58 454.70 58.09 454.80 57.54 454.95C57.00 455.09 56.44 455.28 55.81 455.23C55.18 455.19 54.04 455.23 53.78 454.70C53.53 454.16 54.22 452.82 54.27 452.04C54.32 451.26 54.09 450.75 54.06 450.02C54.02 449.30 53.76 448.40 54.06 447.69C54.35 446.98 55.24 446.17 55.84 445.76C56.44 445.35 57.18 445.22 57.67 445.26C58.17 445.29 58.50 445.48 58.82 445.96C59.15 446.44 59.16 447.69 59.62 448.13C60.07 448.56 61.24 448.01 61.55 448.57C61.87 449.13 61.69 450.74 61.52 451.47Z" fill="none" stroke="#484848" stroke-width="0.45" stroke-linejoin="round"/>
<path d="M59.91 450.76C59.83 451.19 59.80 451.74 59.56 452.13C59.33 452.51 58.82 452.87 58.48 453.09C58.14 453.30 57.92 453.22 57.50 453.40C57.08 453.57 56.38 454.12 55.96 454.12C55.55 454.12 55.12 453.79 55.00 453.39C54.88 452.99 55.26 452.29 55.26 451.73C55.26 451.17 55.04 450.56 55.01 450.04C54.98 449.51 54.83 448.97 55.07 448.56C55.30 448.15 56.09 447.91 56.43 447.60C56.78 447.28 56.76 446.65 57.13 446.65C57.51 446.66 58.37 447.28 58.67 447.63C58.96 447.97 58.65 448.40 58.87 448.72C59.10 449.04 59.83 449.21 60.00 449.55C60.18 449.89 59.98 450.33 59.91 450.76Z" fill="none" stroke="#484848" stroke-width="0.45" stroke-linejoin="round"/>
<path d="M58.84 450.99C58.78 451.24 58.70 451.09 58.53 451.22C58.37 451.36 58.01 451.63 57.86 451.79C57.71 451.94 57.86 452.10 57.63 452.15C57.40 452.21 56.74 452.16 56.47 452.13C56.20 452.10 56.06 452.17 56.01 451.97C55.97 451.78 56.17 451.28 56.19 450.95C56.22 450.62 56.16 450.27 56.18 450.00C56.20 449.74 56.26 449.55 56.30 449.35C56.35 449.16 56.24 449.00 56.47 448.82C56.70 448.63 57.48 448.23 57.70 448.26C57.91 448.29 57.70 448.80 57.77 449.00C57.83 449.19 57.90 449.29 58.09 449.42C58.28 449.54 58.79 449.47 58.91 449.73C59.04 449.99 58.90 450.74 58.84 450.99Z" fill="none" stroke="#484848" stroke-width="0.45" stroke-linejoin="round"/>
<path d="M57.80 441.07C57.75 441.61 57.25 442.03 57.07 442.46C56.89 442.88 56.92 443.23 56.69 443.62C56.47 444.01 56.11 444.67 55.73 444.80C55.35 444.93 54.81 444.65 54.42 444.40C54.03 444.14 53.70 443.57 53.39 443.28C53.08 443.00 52.73 443.08 52.56 442.69C52.38 442.30 52.38 441.53 52.33 440.95C52.27 440.37 52.06 439.70 52.21 439.20C52.35 438.70 52.82 438.07 53.18 437.97C53.54 437.87 53.97 438.63 54.36 438.60C54.75 438.58 55.10 437.98 55.53 437.84C55.96 437.70 56.63 437.55 56.94 437.78C57.25 438.02 57.23 438.70 57.37 439.25C57.52 439.80 57.85 440.54 57.80 441.07Z" fill="none" stroke="#555" stroke-width="0.45" stroke-linejoin="round"/>
<path d="M55.97 440.92C55.97 441.14 55.98 441.38 55.95 441.56C55.92 441.74 55.90 441.81 55.81 441.98C55.73 442.15 55.64 442.53 55.44 442.58C55.23 442.62 54.76 442.32 54.59 442.25C54.43 442.17 54.56 442.22 54.46 442.13C54.36 442.04 54.09 441.87 53.99 441.71C53.90 441.54 53.95 441.38 53.90 441.15C53.86 440.92 53.66 440.55 53.75 440.32C53.84 440.08 54.29 439.84 54.46 439.76C54.62 439.67 54.62 439.81 54.73 439.79C54.83 439.77 54.90 439.68 55.08 439.65C55.27 439.63 55.70 439.53 55.85 439.63C55.99 439.73 55.94 440.03 55.96 440.25C55.98 440.46 55.97 440.70 55.97 440.92Z" fill="none" stroke="#555" stroke-width="0.45" stroke-linejoin="round"/>
<path d="M67.12 458.67C66.99 459.04 66.10 459.09 65.78 459.40C65.46 459.70 65.56 460.11 65.21 460.50C64.86 460.89 64.32 461.67 63.68 461.74C63.05 461.81 62.04 461.19 61.43 460.92C60.83 460.65 60.47 460.35 60.05 460.11C59.62 459.87 59.21 459.75 58.86 459.48C58.51 459.22 58.13 458.93 57.93 458.54C57.73 458.15 57.36 457.44 57.64 457.13C57.91 456.81 58.88 456.70 59.57 456.65C60.27 456.60 61.18 456.93 61.80 456.83C62.42 456.73 62.65 456.15 63.29 456.03C63.94 455.91 65.16 455.94 65.70 456.13C66.24 456.32 66.32 456.74 66.55 457.16C66.79 457.59 67.25 458.30 67.12 458.67Z" fill="none" stroke="#555" stroke-width="0.45" stroke-linejoin="round"/>
<path d="M64.18 458.61C64.09 458.75 63.81 458.90 63.69 459.01C63.58 459.13 63.63 459.16 63.51 459.29C63.40 459.42 63.25 459.74 63.02 459.79C62.80 459.84 62.42 459.66 62.16 459.58C61.90 459.50 61.67 459.41 61.46 459.31C61.26 459.22 61.04 459.12 60.93 459.00C60.81 458.89 60.85 458.77 60.78 458.61C60.71 458.45 60.38 458.22 60.52 458.07C60.65 457.91 61.33 457.72 61.60 457.67C61.87 457.62 61.88 457.82 62.12 457.76C62.37 457.71 62.83 457.38 63.07 457.35C63.30 457.31 63.35 457.44 63.55 457.57C63.74 457.70 64.14 457.96 64.25 458.13C64.36 458.30 64.28 458.46 64.18 458.61Z" fill="none" stroke="#555" stroke-width="0.45" stroke-linejoin="round"/>
<ellipse cx="67.6" cy="441.2" rx="1.7" ry="3.0" fill="#fff"/>
<path d="M46.70 415.60C46.98 415.93 48.00 416.20 48.40 417.60C48.80 419.00 48.92 420.93 49.10 424.00C49.28 427.07 49.40 431.67 49.50 436.00C49.60 440.33 49.60 445.83 49.70 450.00C49.80 454.17 49.72 458.50 50.10 461.00C50.48 463.50 50.02 464.25 52.00 465.00C53.98 465.75 58.67 465.37 62.00 465.50C65.33 465.63 69.60 465.55 72.00 465.80C74.40 466.05 75.43 466.55 76.40 467.00C77.37 467.45 77.57 468.25 77.80 468.50L46.7 468.5Z" fill="#1c1c1c" stroke="#111" stroke-width="0.4" stroke-linejoin="round"/>
<path d="M50.60 418.00C50.83 420.00 51.72 425.33 52.00 430.00C52.28 434.67 52.15 441.00 52.30 446.00C52.45 451.00 52.45 457.07 52.90 460.00C53.35 462.93 52.82 462.95 55.00 463.60C57.18 464.25 62.67 463.68 66.00 463.90C69.33 464.12 72.83 464.28 75.00 464.90C77.17 465.52 78.33 467.15 79.00 467.60" fill="none" stroke="#303030" stroke-width="0.55" stroke-linejoin="round"/>
<path d="M52.40 420.00C52.67 422.00 53.70 427.67 54.00 432.00C54.30 436.33 54.03 441.67 54.20 446.00C54.37 450.33 54.53 455.37 55.00 458.00C55.47 460.63 54.83 461.10 57.00 461.80C59.17 462.50 65.17 462.03 68.00 462.20C70.83 462.37 73.00 462.70 74.00 462.80" fill="none" stroke="#484848" stroke-width="0.45" stroke-linejoin="round"/>
<path d="M89.60 409.40C89.43 408.30 90.52 406.32 91.50 405.00C92.48 403.68 94.33 403.00 95.50 401.50C96.67 400.00 97.50 397.48 98.50 396.00C99.50 394.52 100.25 393.27 101.50 392.60C102.75 391.93 104.78 391.60 106.00 392.00C107.22 392.40 108.27 393.67 108.80 395.00C109.33 396.33 109.43 398.25 109.20 400.00C108.97 401.75 108.17 403.75 107.40 405.50C106.63 407.25 105.75 409.08 104.60 410.50C103.45 411.92 101.80 413.58 100.50 414.00C99.20 414.42 97.65 413.67 96.80 413.00C95.95 412.33 96.12 410.23 95.40 410.00C94.68 409.77 93.47 411.70 92.50 411.60C91.53 411.50 89.77 410.50 89.60 409.40Z" fill="none" stroke="#555" stroke-width="0.45" stroke-linejoin="round"/>
<path d="M97.37 400.10C97.86 398.51 98.60 396.68 99.45 395.55C100.29 394.42 101.34 393.65 102.42 393.31C103.50 392.97 105.03 392.98 105.93 393.51C106.82 394.05 107.50 395.25 107.80 396.51C108.10 397.77 108.04 399.60 107.74 401.09C107.43 402.57 106.74 404.00 105.97 405.43C105.21 406.86 104.15 408.63 103.14 409.65C102.12 410.66 100.89 411.55 99.88 411.53C98.88 411.52 97.66 410.63 97.11 409.56C96.55 408.48 96.50 406.67 96.55 405.10C96.59 403.52 96.89 401.69 97.37 400.10Z" fill="none" stroke="#303030" stroke-width="0.5" stroke-linejoin="round"/>
<path d="M98.33 400.18C98.74 398.85 99.36 397.33 100.08 396.39C100.81 395.44 101.72 394.80 102.66 394.50C103.60 394.21 104.96 394.20 105.72 394.63C106.48 395.06 106.97 396.03 107.22 397.09C107.46 398.15 107.45 399.71 107.20 400.98C106.95 402.26 106.37 403.52 105.71 404.74C105.06 405.96 104.15 407.40 103.27 408.29C102.40 409.19 101.30 410.12 100.45 410.10C99.61 410.08 98.66 409.13 98.19 408.17C97.71 407.21 97.58 405.68 97.60 404.35C97.62 403.02 97.92 401.51 98.33 400.18Z" fill="none" stroke="#303030" stroke-width="0.5" stroke-linejoin="round"/>
<path d="M99.25 400.25C99.57 399.14 100.07 397.97 100.67 397.20C101.27 396.43 102.07 395.88 102.86 395.64C103.64 395.40 104.76 395.41 105.38 395.76C105.99 396.12 106.35 396.90 106.55 397.78C106.76 398.67 106.83 400.00 106.61 401.07C106.39 402.14 105.77 403.22 105.23 404.20C104.70 405.18 104.11 406.27 103.38 406.98C102.66 407.68 101.60 408.43 100.91 408.42C100.21 408.40 99.56 407.65 99.20 406.88C98.84 406.12 98.73 404.93 98.74 403.82C98.74 402.71 98.92 401.35 99.25 400.25Z" fill="none" stroke="#303030" stroke-width="0.5" stroke-linejoin="round"/>
<path d="M100.18 400.47C100.47 399.58 100.94 398.53 101.42 397.92C101.90 397.30 102.48 396.94 103.07 396.79C103.66 396.64 104.51 396.70 104.98 397.00C105.44 397.30 105.67 397.94 105.85 398.60C106.02 399.26 106.18 400.16 106.01 400.96C105.84 401.76 105.25 402.62 104.82 403.40C104.40 404.18 104.01 405.07 103.47 405.63C102.94 406.19 102.15 406.77 101.59 406.76C101.03 406.75 100.45 406.18 100.13 405.59C99.81 405.01 99.67 404.09 99.68 403.24C99.69 402.38 99.89 401.35 100.18 400.47Z" fill="none" stroke="#303030" stroke-width="0.5" stroke-linejoin="round"/>
<ellipse cx="104.0" cy="401.3" rx="3.2" ry="4.5" fill="#c4c4c4" stroke="#0a0a0a" stroke-width="1.9" transform="rotate(18 104.0 401.3)"/>
<ellipse cx="104.0" cy="401.3" rx="4.9" ry="6.4" fill="none" stroke="#222" stroke-width="0.6" transform="rotate(18 104.0 401.3)"/>
<ellipse cx="90.3" cy="425.4" rx="0.9" ry="1.3" fill="none" stroke="#666" stroke-width="0.45"/>
</g>
<rect x="154.30" y="391.00" width="83.60" height="77.30" fill="none" stroke="#555" stroke-width="0.75"/>
<text x="148.9" y="397.79999999999995" font-size="3.8" text-anchor="end" fill="#151515">10</text>
<text x="148.9" y="396.0" font-size="2.4" text-anchor="start" fill="#151515">5</text>
<line x1="152.70000000000002" y1="396.4" x2="154.3" y2="396.4" stroke="#555" stroke-width="0.5"/>
<text x="148.9" y="416.0" font-size="3.8" text-anchor="end" fill="#151515">10</text>
<text x="148.9" y="414.20000000000005" font-size="2.4" text-anchor="start" fill="#151515">4</text>
<line x1="152.70000000000002" y1="414.6" x2="154.3" y2="414.6" stroke="#555" stroke-width="0.5"/>
<text x="148.9" y="434.0" font-size="3.8" text-anchor="end" fill="#151515">10</text>
<text x="148.9" y="432.20000000000005" font-size="2.4" text-anchor="start" fill="#151515">3</text>
<line x1="152.70000000000002" y1="432.6" x2="154.3" y2="432.6" stroke="#555" stroke-width="0.5"/>
<text x="148.9" y="453.5" font-size="3.8" text-anchor="end" fill="#151515">10</text>
<text x="148.9" y="451.70000000000005" font-size="2.4" text-anchor="start" fill="#151515">2</text>
<line x1="152.70000000000002" y1="452.1" x2="154.3" y2="452.1" stroke="#555" stroke-width="0.5"/>
<text x="148.9" y="462.3" font-size="3.8" text-anchor="end" fill="#151515">0</text>
<text x="163.7" y="475.90000000000003" font-size="3.8" text-anchor="middle" fill="#151515">0</text>
<line x1="163.7" y1="468.3" x2="163.7" y2="469.90000000000003" stroke="#555" stroke-width="0.5"/>
<text x="172.2" y="475.90000000000003" font-size="3.8" text-anchor="end" fill="#151515">10</text>
<text x="172.2" y="474.1" font-size="2.4" text-anchor="start" fill="#151515">2</text>
<line x1="171.6" y1="468.3" x2="171.6" y2="469.90000000000003" stroke="#555" stroke-width="0.5"/>
<text x="193.0" y="475.90000000000003" font-size="3.8" text-anchor="end" fill="#151515">10</text>
<text x="193.0" y="474.1" font-size="2.4" text-anchor="start" fill="#151515">3</text>
<line x1="192.4" y1="468.3" x2="192.4" y2="469.90000000000003" stroke="#555" stroke-width="0.5"/>
<text x="212.7" y="475.90000000000003" font-size="3.8" text-anchor="end" fill="#151515">10</text>
<text x="212.7" y="474.1" font-size="2.4" text-anchor="start" fill="#151515">4</text>
<line x1="212.1" y1="468.3" x2="212.1" y2="469.90000000000003" stroke="#555" stroke-width="0.5"/>
<text x="232.5" y="475.90000000000003" font-size="3.8" text-anchor="end" fill="#151515">10</text>
<text x="232.5" y="474.1" font-size="2.4" text-anchor="start" fill="#151515">5</text>
<line x1="231.9" y1="468.3" x2="231.9" y2="469.90000000000003" stroke="#555" stroke-width="0.5"/>
<line x1="154.3" y1="469.1" x2="237.9" y2="469.1" stroke="#777" stroke-width="1.1" stroke-dasharray="0.5 1.6"/>
<line x1="153.5" y1="391.0" x2="153.5" y2="468.3" stroke="#777" stroke-width="1.1" stroke-dasharray="0.5 1.6"/>
<line x1="202.8" y1="417.4" x2="202.8" y2="468.3" stroke="#666" stroke-width="0.65"/>
<line x1="154.3" y1="417.4" x2="237.9" y2="417.4" stroke="#666" stroke-width="0.65"/>
<g clip-path="url(#cE2)">
<path d="M160.2 400.5h0.6M198.3 409.9h0.6M196.6 416.5h0.6M157.5 397.9h0.6M192.4 409.2h0.6M157.7 404.6h0.6M166.7 402.8h0.6M160.8 392.5h0.6M201.6 399.9h0.6M196.4 395.0h0.6M178.4 395.4h0.6M175.7 396.5h0.6M187.5 395.7h0.6M190.0 404.5h0.6M161.2 400.8h0.6M178.8 415.0h0.6M172.1 397.4h0.6M200.5 414.1h0.6M189.6 398.8h0.6M164.2 398.6h0.6M159.2 393.1h0.6M179.4 402.2h0.6M181.6 401.1h0.6M156.5 409.2h0.6M186.0 405.6h0.6M181.2 409.3h0.6M201.2 413.9h0.6M189.0 402.0h0.6M170.6 402.5h0.6M200.8 401.7h0.6M173.7 402.2h0.6M162.6 417.0h0.6M156.2 407.2h0.6M198.6 398.4h0.6M184.1 401.4h0.6M167.1 397.0h0.6M161.3 413.1h0.6M192.1 414.7h0.6M158.3 409.4h0.6M170.9 408.2h0.6M181.3 399.9h0.6M200.7 392.0h0.6M190.3 413.3h0.6M179.5 406.8h0.6M201.8 397.9h0.6M185.0 410.6h0.6M173.4 409.8h0.6M174.1 405.2h0.6M184.2 408.9h0.6M170.8 407.7h0.6M181.0 397.6h0.6M184.2 398.6h0.6M197.8 403.8h0.6M189.2 405.1h0.6M177.9 397.5h0.6M162.5 415.2h0.6M180.3 405.1h0.6M180.3 412.3h0.6M167.0 396.3h0.6M193.8 403.5h0.6" stroke="#b4b4b4" stroke-width="0.6" fill="none"/>
<path d="M185.5 458.5h0.6M197.1 460.5h0.6M158.0 436.7h0.6M194.3 458.1h0.6M161.7 425.5h0.6M167.6 423.0h0.6M172.4 457.4h0.6M180.0 440.2h0.6M160.0 437.4h0.6M201.9 452.1h0.6M176.7 441.4h0.6M192.7 455.2h0.6M162.9 451.3h0.6M172.9 443.5h0.6M166.9 436.2h0.6M171.6 436.7h0.6M156.8 427.8h0.6M182.2 420.8h0.6M164.2 453.2h0.6M168.6 433.9h0.6M167.1 458.9h0.6M160.2 449.2h0.6M195.5 427.9h0.6M175.5 456.8h0.6M184.4 436.2h0.6M158.0 439.7h0.6M172.9 452.9h0.6M169.6 438.0h0.6M185.8 457.7h0.6M172.2 436.9h0.6M182.6 463.3h0.6M164.8 465.6h0.6M188.7 436.2h0.6M186.6 434.1h0.6M159.3 455.0h0.6M173.5 443.8h0.6M178.8 462.2h0.6M190.8 419.3h0.6M183.3 440.7h0.6M177.3 459.1h0.6M175.1 441.2h0.6M197.0 439.6h0.6M178.6 443.1h0.6M193.9 450.8h0.6M190.1 437.7h0.6M157.9 451.3h0.6M181.5 455.7h0.6M191.4 423.8h0.6M166.2 421.8h0.6M193.6 423.0h0.6M160.1 454.9h0.6M182.0 420.7h0.6M187.3 452.8h0.6M178.2 420.7h0.6M187.8 438.5h0.6M182.9 466.9h0.6M193.6 460.7h0.6M162.7 434.4h0.6M179.8 418.3h0.6M201.5 431.5h0.6M168.1 433.3h0.6M167.7 460.1h0.6M181.6 443.0h0.6M175.3 420.5h0.6M170.0 460.5h0.6M192.9 460.0h0.6M167.8 427.9h0.6M158.4 444.3h0.6M173.2 440.7h0.6M178.5 446.6h0.6M172.8 457.3h0.6M165.2 463.0h0.6M181.6 420.5h0.6M170.5 444.1h0.6M174.8 445.7h0.6M170.9 431.4h0.6M192.6 432.3h0.6M188.7 457.3h0.6M183.2 440.3h0.6M199.0 439.8h0.6" stroke="#999" stroke-width="0.6" fill="none"/>
<path d="M226.8 393.4h0.6M215.3 407.3h0.6M205.3 412.7h0.6M205.9 406.3h0.6M208.7 414.1h0.6M218.6 411.2h0.6M217.0 408.2h0.6M221.5 399.1h0.6M209.5 412.1h0.6M207.8 414.0h0.6M209.4 394.4h0.6M206.5 410.8h0.6" stroke="#ccc" stroke-width="0.6" fill="none"/>
<path d="M154.80 409.00C155.23 399.72 156.13 411.87 157.40 412.60C158.67 413.33 160.70 413.92 162.40 413.40C164.10 412.88 165.57 410.57 167.60 409.50C169.63 408.43 172.60 408.00 174.60 407.00C176.60 406.00 178.43 405.00 179.60 403.50C180.77 402.00 181.03 399.72 181.60 398.00C182.17 396.28 181.60 394.23 183.00 393.20C184.40 392.17 187.50 392.00 190.00 391.80C192.50 391.60 195.67 391.70 198.00 392.00C200.33 392.30 202.73 392.60 204.00 393.60C205.27 394.60 205.67 396.27 205.60 398.00C205.53 399.73 204.67 402.23 203.60 404.00C202.53 405.77 200.73 407.27 199.20 408.60C197.67 409.93 195.80 410.77 194.40 412.00C193.00 413.23 192.20 414.90 190.80 416.00C189.40 417.10 187.03 417.27 186.00 418.60C184.97 419.93 184.43 421.93 184.60 424.00C184.77 426.07 186.27 428.83 187.00 431.00C187.73 433.17 189.10 435.00 189.00 437.00C188.90 439.00 187.23 440.83 186.40 443.00C185.57 445.17 184.33 447.50 184.00 450.00C183.67 452.50 183.80 455.67 184.40 458.00C185.00 460.33 186.67 462.30 187.60 464.00C188.53 465.70 192.93 467.48 190.00 468.20C187.07 468.92 175.87 468.28 170.00 468.30C164.13 468.32 157.33 478.18 154.80 468.30C152.27 458.42 154.37 418.28 154.80 409.00Z" fill="none" stroke="#505050" stroke-width="0.45" stroke-linejoin="round"/>
<path d="M155.80 417.00C156.50 408.70 158.30 417.10 160.00 416.60C161.70 416.10 164.17 414.93 166.00 414.00C167.83 413.07 169.17 411.83 171.00 411.00C172.83 410.17 175.17 409.90 177.00 409.00C178.83 408.10 180.77 407.10 182.00 405.60C183.23 404.10 183.73 401.70 184.40 400.00C185.07 398.30 184.90 396.40 186.00 395.40C187.10 394.40 189.17 394.17 191.00 394.00C192.83 393.83 195.27 394.03 197.00 394.40C198.73 394.77 200.53 395.27 201.40 396.20C202.27 397.13 202.60 398.53 202.20 400.00C201.80 401.47 200.37 403.57 199.00 405.00C197.63 406.43 195.50 407.33 194.00 408.60C192.50 409.87 191.33 411.43 190.00 412.60C188.67 413.77 187.17 414.45 186.00 415.60C184.83 416.75 183.57 417.85 183.00 419.50C182.43 421.15 182.27 423.42 182.60 425.50C182.93 427.58 184.33 430.02 185.00 432.00C185.67 433.98 186.77 435.48 186.60 437.40C186.43 439.32 184.83 441.40 184.00 443.50C183.17 445.60 181.97 447.58 181.60 450.00C181.23 452.42 181.40 455.57 181.80 458.00C182.20 460.43 185.97 463.20 184.00 464.60C182.03 466.00 174.70 466.10 170.00 466.40C165.30 466.70 158.17 474.63 155.80 466.40C153.43 458.17 155.10 425.30 155.80 417.00Z" fill="none" stroke="#505050" stroke-width="0.45" stroke-linejoin="round"/>
<path d="M157.00 414.60C157.33 413.53 159.60 411.73 161.00 411.20C162.40 410.67 163.97 411.90 165.40 411.40C166.83 410.90 168.00 409.10 169.60 408.20C171.20 407.30 173.50 407.03 175.00 406.00C176.50 404.97 177.70 403.50 178.60 402.00C179.50 400.50 179.50 398.30 180.40 397.00C181.30 395.70 182.90 394.30 184.00 394.20C185.10 394.10 186.77 395.10 187.00 396.40C187.23 397.70 186.23 400.23 185.40 402.00C184.57 403.77 183.40 405.50 182.00 407.00C180.60 408.50 178.83 409.90 177.00 411.00C175.17 412.10 173.00 412.70 171.00 413.60C169.00 414.50 167.00 415.73 165.00 416.40C163.00 417.07 160.33 417.90 159.00 417.60C157.67 417.30 156.67 415.67 157.00 414.60Z" fill="none" stroke="#555" stroke-width="0.45" stroke-linejoin="round"/>
<path d="M194.04 402.32C194.38 402.68 195.09 403.21 195.07 403.64C195.05 404.08 194.31 404.51 193.90 404.92C193.49 405.34 193.09 405.88 192.60 406.13C192.12 406.38 191.51 406.36 190.99 406.41C190.47 406.46 190.02 406.47 189.49 406.43C188.96 406.39 188.24 406.41 187.81 406.17C187.38 405.92 186.90 405.40 186.92 404.96C186.94 404.52 187.78 403.99 187.94 403.51C188.11 403.03 187.71 402.51 187.89 402.07C188.07 401.64 188.57 401.13 189.04 400.90C189.50 400.66 190.14 400.73 190.70 400.66C191.25 400.59 191.97 400.33 192.36 400.47C192.76 400.61 192.79 401.19 193.07 401.50C193.35 401.81 193.71 401.97 194.04 402.32Z" fill="none" stroke="#404040" stroke-width="0.5" stroke-linejoin="round"/>
<path d="M193.29 402.72C193.56 402.95 194.08 403.21 194.04 403.55C194.00 403.89 193.37 404.47 193.04 404.78C192.72 405.09 192.48 405.25 192.12 405.40C191.75 405.55 191.23 405.64 190.84 405.71C190.45 405.77 190.13 405.85 189.78 405.81C189.43 405.76 189.00 405.65 188.73 405.43C188.45 405.21 188.12 404.78 188.11 404.49C188.09 404.20 188.57 403.99 188.64 403.69C188.71 403.39 188.40 403.04 188.53 402.67C188.67 402.31 189.11 401.76 189.45 401.52C189.79 401.29 190.19 401.30 190.58 401.27C190.97 401.23 191.48 401.17 191.80 401.32C192.11 401.47 192.21 401.91 192.46 402.14C192.71 402.38 193.03 402.48 193.29 402.72Z" fill="none" stroke="#404040" stroke-width="0.5" stroke-linejoin="round"/>
<path d="M192.35 402.88C192.49 403.06 192.90 403.27 192.89 403.53C192.88 403.78 192.52 404.19 192.32 404.40C192.11 404.61 191.94 404.67 191.69 404.78C191.43 404.89 191.04 405.04 190.77 405.08C190.50 405.12 190.30 405.07 190.04 405.04C189.79 405.01 189.43 405.03 189.24 404.90C189.04 404.77 188.85 404.49 188.88 404.25C188.90 404.01 189.33 403.67 189.39 403.47C189.44 403.26 189.15 403.20 189.22 403.03C189.29 402.85 189.56 402.57 189.82 402.41C190.08 402.25 190.53 402.13 190.80 402.05C191.06 401.97 191.20 401.84 191.41 401.91C191.62 401.98 191.93 402.30 192.08 402.46C192.24 402.62 192.22 402.71 192.35 402.88Z" fill="none" stroke="#404040" stroke-width="0.5" stroke-linejoin="round"/>
<path d="M191.61 403.32C191.68 403.41 191.75 403.51 191.72 403.61C191.70 403.72 191.53 403.88 191.45 403.97C191.37 404.06 191.34 404.10 191.23 404.16C191.12 404.21 190.90 404.30 190.76 404.31C190.62 404.31 190.52 404.18 190.39 404.18C190.27 404.19 190.08 404.37 190.00 404.35C189.91 404.33 189.87 404.16 189.86 404.06C189.85 403.95 189.89 403.84 189.92 403.72C189.96 403.60 189.98 403.45 190.06 403.33C190.13 403.22 190.25 403.08 190.36 403.01C190.46 402.94 190.54 402.95 190.66 402.90C190.78 402.86 190.96 402.72 191.05 402.74C191.15 402.77 191.15 402.96 191.24 403.05C191.34 403.15 191.53 403.22 191.61 403.32Z" fill="none" stroke="#404040" stroke-width="0.5" stroke-linejoin="round"/>
<path d="M202.24 397.43C202.24 397.84 202.15 398.29 201.91 398.66C201.67 399.03 201.17 399.25 200.81 399.64C200.45 400.03 200.23 400.77 199.75 401.00C199.28 401.22 198.52 401.11 197.97 400.99C197.42 400.86 196.91 400.44 196.46 400.24C196.01 400.05 195.62 400.10 195.28 399.83C194.93 399.56 194.52 399.06 194.40 398.64C194.27 398.22 194.37 397.73 194.52 397.31C194.68 396.88 194.87 396.32 195.34 396.09C195.81 395.86 196.78 396.04 197.37 395.90C197.95 395.77 198.32 395.38 198.85 395.28C199.38 395.19 200.04 395.17 200.56 395.32C201.07 395.47 201.65 395.83 201.93 396.18C202.21 396.53 202.25 397.01 202.24 397.43Z" fill="none" stroke="#484848" stroke-width="0.45" stroke-linejoin="round"/>
<path d="M200.90 397.48C200.92 397.74 200.89 398.24 200.75 398.47C200.61 398.70 200.28 398.64 200.06 398.86C199.84 399.09 199.78 399.61 199.44 399.82C199.10 400.02 198.40 400.14 198.04 400.10C197.67 400.06 197.58 399.72 197.27 399.58C196.97 399.44 196.43 399.42 196.22 399.25C196.00 399.08 196.03 398.83 196.00 398.57C195.97 398.31 195.93 398.00 196.02 397.71C196.12 397.42 196.29 397.00 196.56 396.82C196.82 396.64 197.25 396.71 197.62 396.64C197.98 396.56 198.37 396.40 198.72 396.35C199.08 396.30 199.42 396.25 199.74 396.34C200.06 396.44 200.43 396.71 200.63 396.90C200.82 397.09 200.88 397.21 200.90 397.48Z" fill="none" stroke="#484848" stroke-width="0.45" stroke-linejoin="round"/>
<path d="M199.42 397.94C199.43 398.08 199.59 398.02 199.55 398.10C199.52 398.17 199.36 398.25 199.23 398.37C199.10 398.50 198.93 398.76 198.76 398.85C198.59 398.93 198.33 398.92 198.20 398.90C198.07 398.89 198.09 398.82 197.98 398.75C197.86 398.68 197.62 398.58 197.51 398.50C197.40 398.42 197.35 398.39 197.32 398.29C197.29 398.20 197.28 398.10 197.32 397.95C197.37 397.81 197.50 397.51 197.60 397.41C197.70 397.32 197.76 397.42 197.92 397.37C198.09 397.33 198.42 397.16 198.61 397.14C198.80 397.12 198.93 397.25 199.08 397.27C199.23 397.30 199.45 397.17 199.51 397.28C199.57 397.39 199.41 397.80 199.42 397.94Z" fill="none" stroke="#484848" stroke-width="0.45" stroke-linejoin="round"/>
<path d="M185.37 410.40C185.49 410.81 185.39 411.44 185.12 411.96C184.85 412.47 184.25 412.92 183.76 413.49C183.28 414.06 182.92 414.85 182.19 415.39C181.46 415.92 180.19 416.49 179.38 416.69C178.58 416.89 178.07 416.58 177.35 416.60C176.62 416.63 175.62 416.90 175.04 416.83C174.45 416.76 174.10 416.54 173.84 416.19C173.58 415.84 173.37 415.27 173.47 414.72C173.58 414.18 173.80 413.50 174.46 412.94C175.13 412.37 176.56 411.77 177.45 411.33C178.34 410.90 178.96 410.71 179.80 410.30C180.64 409.90 181.71 409.05 182.49 408.91C183.26 408.78 183.97 409.25 184.45 409.49C184.93 409.74 185.26 409.99 185.37 410.40Z" fill="none" stroke="#404040" stroke-width="0.5" stroke-linejoin="round"/>
<path d="M183.85 411.24C183.92 411.52 183.79 411.76 183.59 412.12C183.39 412.47 182.97 412.94 182.68 413.38C182.38 413.82 182.36 414.30 181.83 414.75C181.30 415.20 180.13 415.87 179.48 416.06C178.83 416.24 178.50 415.89 177.93 415.86C177.37 415.83 176.54 415.91 176.09 415.85C175.64 415.80 175.41 415.75 175.22 415.51C175.04 415.27 174.91 414.83 174.98 414.41C175.05 413.98 175.19 413.36 175.66 412.95C176.14 412.54 177.16 412.27 177.85 411.96C178.54 411.66 179.17 411.40 179.82 411.13C180.46 410.85 181.15 410.44 181.70 410.33C182.26 410.21 182.80 410.27 183.16 410.42C183.52 410.57 183.78 410.96 183.85 411.24Z" fill="none" stroke="#404040" stroke-width="0.5" stroke-linejoin="round"/>
<path d="M182.52 411.83C182.54 412.05 182.41 412.36 182.31 412.62C182.20 412.88 182.12 413.16 181.91 413.40C181.71 413.64 181.49 413.80 181.09 414.04C180.68 414.28 179.91 414.67 179.48 414.84C179.06 415.02 178.94 415.06 178.56 415.09C178.19 415.11 177.54 415.08 177.23 414.97C176.92 414.86 176.85 414.59 176.73 414.43C176.61 414.28 176.47 414.30 176.51 414.06C176.56 413.82 176.66 413.28 177.00 412.98C177.33 412.68 178.09 412.44 178.53 412.25C178.97 412.05 179.20 411.96 179.65 411.79C180.10 411.61 180.80 411.29 181.23 411.22C181.66 411.14 182.00 411.23 182.21 411.33C182.43 411.43 182.51 411.62 182.52 411.83Z" fill="none" stroke="#404040" stroke-width="0.5" stroke-linejoin="round"/>
<path d="M180.98 412.69C181.02 412.81 181.11 412.86 181.05 412.94C180.98 413.01 180.71 412.97 180.59 413.12C180.47 413.27 180.47 413.69 180.32 413.85C180.18 414.00 179.94 414.00 179.69 414.03C179.45 414.07 179.02 414.09 178.85 414.07C178.67 414.05 178.74 413.98 178.64 413.93C178.54 413.88 178.35 413.86 178.24 413.78C178.14 413.69 178.01 413.52 178.00 413.40C177.99 413.29 177.99 413.16 178.19 413.09C178.39 413.01 178.98 413.06 179.20 412.95C179.42 412.84 179.28 412.58 179.49 412.43C179.71 412.28 180.28 412.10 180.50 412.06C180.71 412.02 180.69 412.10 180.77 412.20C180.85 412.31 180.93 412.57 180.98 412.69Z" fill="none" stroke="#404040" stroke-width="0.5" stroke-linejoin="round"/>
<path d="M189.45 394.25C189.69 394.52 189.73 395.12 189.63 395.51C189.53 395.89 189.07 396.19 188.85 396.55C188.62 396.91 188.64 397.39 188.30 397.67C187.97 397.95 187.31 398.01 186.84 398.21C186.37 398.41 185.96 398.79 185.48 398.88C185.01 398.97 184.26 399.03 184.01 398.77C183.76 398.52 184.06 397.74 184.00 397.36C183.93 396.97 183.71 396.81 183.62 396.45C183.54 396.09 183.35 395.56 183.50 395.21C183.65 394.85 184.12 394.59 184.51 394.30C184.91 394.01 185.42 393.58 185.87 393.46C186.32 393.34 186.81 393.50 187.19 393.57C187.57 393.65 187.77 393.79 188.15 393.91C188.52 394.02 189.20 393.99 189.45 394.25Z" fill="none" stroke="#555" stroke-width="0.45" stroke-linejoin="round"/>
<path d="M187.92 395.25C188.02 395.39 187.96 395.63 187.89 395.83C187.82 396.02 187.60 396.25 187.50 396.40C187.40 396.54 187.42 396.59 187.27 396.70C187.12 396.81 186.81 396.99 186.59 397.07C186.38 397.15 186.16 397.14 185.98 397.17C185.79 397.19 185.61 397.29 185.50 397.21C185.39 397.13 185.36 396.86 185.32 396.68C185.27 396.50 185.25 396.31 185.21 396.12C185.17 395.94 185.03 395.72 185.08 395.57C185.13 395.42 185.32 395.31 185.52 395.20C185.71 395.09 186.04 394.97 186.24 394.92C186.45 394.88 186.57 394.92 186.74 394.93C186.90 394.94 187.04 394.92 187.23 394.97C187.43 395.02 187.81 395.10 187.92 395.25Z" fill="none" stroke="#555" stroke-width="0.45" stroke-linejoin="round"/>
<path d="M197.31 394.43C197.36 394.67 197.55 394.84 197.45 395.11C197.35 395.38 197.08 395.90 196.70 396.05C196.32 396.20 195.64 396.02 195.17 396.00C194.70 395.99 194.26 395.99 193.87 395.97C193.49 395.95 193.20 396.02 192.86 395.89C192.52 395.76 192.13 395.45 191.85 395.18C191.56 394.91 191.11 394.54 191.15 394.27C191.19 394.01 191.82 393.77 192.09 393.59C192.36 393.41 192.50 393.37 192.78 393.18C193.06 393.00 193.38 392.58 193.78 392.47C194.18 392.35 194.74 392.38 195.19 392.48C195.65 392.58 196.18 392.86 196.51 393.07C196.84 393.28 197.02 393.49 197.15 393.72C197.29 393.95 197.26 394.20 197.31 394.43Z" fill="none" stroke="#555" stroke-width="0.45" stroke-linejoin="round"/>
<path d="M195.68 394.32C195.68 394.42 195.99 394.60 195.95 394.73C195.92 394.87 195.67 395.03 195.48 395.12C195.29 395.21 195.01 395.22 194.80 395.25C194.59 395.27 194.38 395.30 194.22 395.26C194.07 395.23 194.06 395.09 193.89 395.02C193.71 394.95 193.35 394.96 193.18 394.85C193.01 394.75 192.84 394.56 192.88 394.40C192.92 394.25 193.23 394.01 193.40 393.93C193.57 393.85 193.74 393.97 193.89 393.90C194.04 393.84 194.13 393.59 194.31 393.53C194.48 393.47 194.75 393.51 194.93 393.57C195.11 393.63 195.20 393.77 195.37 393.87C195.54 393.97 195.91 394.07 195.96 394.14C196.01 394.22 195.68 394.22 195.68 394.32Z" fill="none" stroke="#555" stroke-width="0.45" stroke-linejoin="round"/>
<path d="M161.01 423.81C161.76 416.52 163.87 421.23 165.53 420.53C167.20 419.83 169.07 419.49 170.98 419.60C172.88 419.71 175.24 420.39 176.95 421.20C178.66 422.01 180.32 422.87 181.23 424.45C182.14 426.03 181.98 428.61 182.43 430.66C182.87 432.71 184.10 434.66 183.89 436.76C183.68 438.86 182.08 441.23 181.16 443.26C180.25 445.29 178.90 446.61 178.42 448.93C177.94 451.26 178.06 454.84 178.27 457.22C178.48 459.61 181.03 461.98 179.67 463.24C178.30 464.51 173.17 464.65 170.07 464.82C166.96 464.99 162.53 471.11 161.02 464.27C159.51 457.44 160.26 431.10 161.01 423.81Z" fill="none" stroke="#404040" stroke-width="0.5" stroke-linejoin="round"/>
<path d="M162.15 426.33C162.92 419.94 164.51 424.17 165.90 423.44C167.30 422.72 168.87 421.96 170.52 421.99C172.17 422.01 174.20 422.85 175.80 423.60C177.41 424.35 179.27 425.07 180.14 426.46C181.02 427.85 180.72 430.09 181.06 431.94C181.41 433.80 182.23 435.81 182.20 437.59C182.17 439.36 181.74 440.87 180.89 442.57C180.03 444.26 177.63 445.58 177.08 447.76C176.54 449.95 177.23 453.48 177.60 455.68C177.98 457.88 180.67 459.99 179.34 460.98C178.02 461.96 172.68 461.44 169.67 461.57C166.66 461.70 162.53 467.65 161.27 461.78C160.02 455.90 161.38 432.72 162.15 426.33Z" fill="none" stroke="#404040" stroke-width="0.5" stroke-linejoin="round"/>
<path d="M162.78 428.28C163.49 422.73 165.41 426.28 166.77 425.72C168.14 425.17 169.56 425.10 170.97 424.97C172.39 424.85 173.96 424.44 175.27 424.97C176.59 425.50 178.13 426.81 178.87 428.14C179.61 429.46 179.44 431.23 179.73 432.93C180.02 434.63 180.66 436.64 180.61 438.33C180.56 440.02 179.97 441.58 179.42 443.05C178.87 444.52 177.67 445.45 177.30 447.17C176.93 448.89 177.01 451.39 177.18 453.35C177.36 455.31 179.59 458.01 178.36 458.93C177.14 459.85 172.46 458.85 169.82 458.87C167.17 458.89 163.67 464.13 162.50 459.03C161.32 453.94 162.07 433.83 162.78 428.28Z" fill="none" stroke="#404040" stroke-width="0.5" stroke-linejoin="round"/>
<path d="M163.83 429.07C164.37 424.28 166.16 428.36 167.34 427.91C168.53 427.47 169.61 426.47 170.96 426.43C172.31 426.38 174.40 427.08 175.45 427.64C176.49 428.19 176.65 428.57 177.23 429.75C177.80 430.93 178.50 433.27 178.91 434.72C179.32 436.18 179.89 437.25 179.69 438.47C179.49 439.70 178.26 440.76 177.71 442.06C177.16 443.35 176.75 444.60 176.40 446.23C176.06 447.86 175.62 450.23 175.66 451.82C175.69 453.41 177.51 454.90 176.62 455.74C175.72 456.59 172.37 456.76 170.28 456.91C168.20 457.05 165.19 461.28 164.12 456.64C163.04 452.00 163.29 433.86 163.83 429.07Z" fill="none" stroke="#404040" stroke-width="0.5" stroke-linejoin="round"/>
<path d="M165.05 431.00C165.60 426.98 166.90 429.62 167.89 429.31C168.87 429.00 169.86 429.01 170.97 429.13C172.08 429.25 173.66 429.57 174.55 430.04C175.44 430.50 175.79 431.04 176.31 431.92C176.84 432.81 177.45 434.15 177.71 435.37C177.97 436.58 178.01 438.16 177.89 439.21C177.77 440.25 177.49 440.50 176.99 441.64C176.48 442.77 175.20 444.65 174.86 446.02C174.52 447.38 174.71 448.52 174.96 449.84C175.21 451.16 177.09 453.18 176.36 453.96C175.63 454.73 172.54 454.57 170.59 454.48C168.63 454.39 165.53 457.35 164.61 453.43C163.69 449.52 164.51 435.02 165.05 431.00Z" fill="none" stroke="#404040" stroke-width="0.5" stroke-linejoin="round"/>
<path d="M166.80 433.68C166.98 430.30 167.14 431.78 167.79 431.50C168.44 431.23 169.78 431.91 170.71 432.02C171.65 432.14 172.52 431.91 173.39 432.19C174.27 432.47 175.43 433.05 175.97 433.73C176.52 434.40 176.60 435.42 176.68 436.24C176.76 437.06 176.58 437.80 176.47 438.67C176.36 439.54 176.28 440.44 176.01 441.46C175.74 442.49 175.17 443.65 174.85 444.83C174.53 446.01 174.10 447.49 174.08 448.54C174.05 449.59 175.34 450.57 174.68 451.14C174.02 451.70 171.45 451.82 170.12 451.94C168.79 452.05 167.26 454.85 166.70 451.81C166.15 448.77 166.62 437.07 166.80 433.68Z" fill="none" stroke="#404040" stroke-width="0.5" stroke-linejoin="round"/>
<path d="M179.68 430.80C180.31 431.50 181.24 432.55 180.86 433.37C180.48 434.19 178.50 435.12 177.39 435.73C176.27 436.34 175.29 436.63 174.19 437.02C173.09 437.41 171.89 437.96 170.79 438.06C169.68 438.16 168.81 437.77 167.56 437.63C166.32 437.49 163.89 437.79 163.31 437.22C162.74 436.65 163.77 435.13 164.11 434.20C164.45 433.28 165.11 432.50 165.33 431.67C165.56 430.85 164.94 429.96 165.45 429.23C165.95 428.50 167.20 427.74 168.38 427.29C169.56 426.83 171.37 426.56 172.52 426.51C173.68 426.46 174.55 426.56 175.32 427.01C176.08 427.45 176.39 428.54 177.12 429.17C177.84 429.80 179.06 430.10 179.68 430.80Z" fill="none" stroke="#303030" stroke-width="0.55" stroke-linejoin="round"/>
<path d="M178.61 430.96C179.08 431.52 179.52 432.50 179.19 433.21C178.86 433.92 177.50 434.69 176.65 435.23C175.80 435.77 175.00 436.12 174.10 436.44C173.20 436.77 172.19 437.08 171.23 437.17C170.28 437.26 169.48 437.10 168.37 436.98C167.27 436.86 165.11 436.99 164.61 436.46C164.11 435.92 165.01 434.55 165.37 433.76C165.72 432.97 166.48 432.41 166.72 431.72C166.95 431.04 166.35 430.27 166.76 429.65C167.17 429.02 168.27 428.38 169.16 427.99C170.05 427.60 171.13 427.33 172.07 427.32C173.02 427.31 174.11 427.47 174.83 427.90C175.54 428.33 175.71 429.38 176.34 429.89C176.97 430.41 178.13 430.41 178.61 430.96Z" fill="none" stroke="#303030" stroke-width="0.55" stroke-linejoin="round"/>
<path d="M177.27 431.49C177.70 432.00 178.08 432.75 177.85 433.30C177.62 433.85 176.62 434.42 175.86 434.78C175.11 435.14 174.12 435.29 173.33 435.47C172.54 435.65 171.91 435.74 171.14 435.87C170.38 436.00 169.53 436.28 168.74 436.23C167.94 436.17 166.74 435.96 166.38 435.54C166.02 435.12 166.36 434.26 166.58 433.70C166.81 433.14 167.56 432.78 167.72 432.17C167.88 431.56 167.21 430.60 167.55 430.05C167.88 429.51 168.96 429.18 169.72 428.90C170.48 428.62 171.36 428.30 172.12 428.35C172.88 428.40 173.76 428.90 174.28 429.22C174.81 429.53 174.77 429.87 175.27 430.25C175.76 430.63 176.84 430.98 177.27 431.49Z" fill="none" stroke="#303030" stroke-width="0.55" stroke-linejoin="round"/>
<path d="M175.90 431.62C176.25 431.94 176.62 432.52 176.44 432.96C176.27 433.39 175.38 433.96 174.84 434.25C174.31 434.53 173.84 434.51 173.23 434.66C172.61 434.81 171.72 435.10 171.14 435.15C170.56 435.20 170.37 434.98 169.74 434.95C169.11 434.93 167.67 435.30 167.37 435.00C167.07 434.70 167.77 433.62 167.95 433.16C168.14 432.71 168.37 432.63 168.49 432.26C168.60 431.89 168.34 431.36 168.62 430.95C168.90 430.53 169.65 430.04 170.18 429.75C170.72 429.46 171.24 429.21 171.83 429.20C172.41 429.20 173.28 429.42 173.71 429.72C174.13 430.03 174.01 430.73 174.38 431.04C174.75 431.36 175.56 431.30 175.90 431.62Z" fill="none" stroke="#303030" stroke-width="0.55" stroke-linejoin="round"/>
<path d="M174.53 431.97C174.76 432.20 174.94 432.66 174.81 432.92C174.68 433.18 174.17 433.39 173.75 433.55C173.34 433.72 172.76 433.79 172.32 433.92C171.89 434.05 171.53 434.29 171.15 434.33C170.76 434.37 170.41 434.15 170.02 434.16C169.64 434.17 168.98 434.58 168.82 434.39C168.65 434.19 168.92 433.35 169.06 432.98C169.20 432.60 169.60 432.42 169.65 432.14C169.69 431.86 169.17 431.51 169.32 431.30C169.46 431.08 170.09 430.97 170.51 430.85C170.92 430.73 171.43 430.55 171.81 430.57C172.18 430.59 172.48 430.80 172.76 430.97C173.04 431.13 173.19 431.39 173.49 431.55C173.78 431.72 174.31 431.74 174.53 431.97Z" fill="none" stroke="#303030" stroke-width="0.55" stroke-linejoin="round"/>
<path d="M172.86 432.41C172.90 432.58 173.11 432.78 173.10 432.92C173.10 433.06 173.01 433.20 172.83 433.24C172.64 433.27 172.23 433.07 171.98 433.16C171.73 433.24 171.55 433.67 171.33 433.74C171.12 433.82 170.89 433.64 170.70 433.60C170.51 433.56 170.29 433.65 170.19 433.49C170.08 433.34 170.04 432.81 170.06 432.68C170.08 432.54 170.24 432.79 170.31 432.69C170.37 432.58 170.32 432.24 170.45 432.05C170.58 431.85 170.91 431.63 171.09 431.50C171.26 431.36 171.27 431.24 171.51 431.24C171.74 431.23 172.26 431.34 172.49 431.45C172.72 431.56 172.80 431.74 172.86 431.90C172.92 432.06 172.82 432.24 172.86 432.41Z" fill="none" stroke="#303030" stroke-width="0.55" stroke-linejoin="round"/>
<path d="M181.36 439.75C181.34 440.48 181.33 441.10 181.24 441.85C181.15 442.60 181.25 443.65 180.80 444.23C180.35 444.82 179.30 445.37 178.56 445.36C177.82 445.34 177.02 444.47 176.38 444.14C175.74 443.81 175.23 443.74 174.74 443.38C174.26 443.03 173.91 442.64 173.47 442.02C173.03 441.39 172.18 440.45 172.08 439.65C171.97 438.84 172.38 437.74 172.86 437.20C173.33 436.66 174.34 436.79 174.91 436.40C175.48 436.01 175.69 435.20 176.28 434.85C176.87 434.50 177.75 434.16 178.45 434.30C179.15 434.44 179.99 435.18 180.48 435.70C180.97 436.22 181.25 436.75 181.39 437.42C181.54 438.10 181.39 439.01 181.36 439.75Z" fill="none" stroke="#3c3c3c" stroke-width="0.5" stroke-linejoin="round"/>
<path d="M180.50 439.83C180.50 440.43 180.47 440.98 180.39 441.53C180.30 442.08 180.31 442.71 179.98 443.10C179.65 443.49 178.96 443.88 178.40 443.88C177.84 443.87 177.08 443.30 176.61 443.06C176.14 442.83 175.96 442.78 175.57 442.49C175.18 442.19 174.61 441.75 174.30 441.30C173.99 440.85 173.73 440.37 173.70 439.78C173.66 439.20 173.78 438.21 174.09 437.78C174.41 437.35 175.18 437.44 175.59 437.19C176.01 436.94 176.13 436.56 176.56 436.28C176.99 436.00 177.64 435.46 178.18 435.53C178.71 435.60 179.41 436.30 179.78 436.70C180.15 437.09 180.27 437.38 180.39 437.90C180.52 438.43 180.51 439.22 180.50 439.83Z" fill="none" stroke="#3c3c3c" stroke-width="0.5" stroke-linejoin="round"/>
<path d="M179.47 439.81C179.42 440.15 179.16 440.43 179.10 440.82C179.04 441.20 179.33 441.84 179.12 442.12C178.91 442.40 178.20 442.51 177.84 442.51C177.48 442.51 177.30 442.25 176.98 442.12C176.67 442.00 176.17 441.98 175.94 441.79C175.71 441.59 175.78 441.30 175.62 440.96C175.46 440.62 175.02 440.17 174.96 439.75C174.91 439.33 175.10 438.70 175.29 438.44C175.48 438.17 175.80 438.35 176.10 438.15C176.40 437.95 176.79 437.46 177.08 437.24C177.37 437.03 177.55 436.81 177.84 436.87C178.13 436.93 178.58 437.28 178.83 437.59C179.08 437.91 179.25 438.40 179.36 438.77C179.46 439.14 179.51 439.46 179.47 439.81Z" fill="none" stroke="#3c3c3c" stroke-width="0.5" stroke-linejoin="round"/>
<path d="M178.44 439.98C178.44 440.15 178.38 440.19 178.31 440.39C178.24 440.58 178.14 441.01 178.02 441.13C177.89 441.26 177.71 441.15 177.57 441.15C177.43 441.14 177.31 441.15 177.18 441.11C177.04 441.08 176.86 441.08 176.74 440.93C176.62 440.78 176.55 440.43 176.47 440.22C176.39 440.01 176.24 439.86 176.24 439.68C176.24 439.51 176.39 439.26 176.47 439.17C176.54 439.08 176.59 439.24 176.69 439.14C176.80 439.04 176.93 438.68 177.09 438.57C177.24 438.46 177.47 438.47 177.61 438.50C177.76 438.52 177.82 438.57 177.94 438.72C178.05 438.86 178.22 439.15 178.31 439.36C178.39 439.57 178.44 439.81 178.44 439.98Z" fill="none" stroke="#3c3c3c" stroke-width="0.5" stroke-linejoin="round"/>
<path d="M173.65 453.32C173.36 454.50 172.93 456.36 172.20 457.12C171.47 457.87 170.14 457.67 169.26 457.84C168.37 458.01 167.68 458.19 166.90 458.11C166.13 458.03 165.28 457.86 164.62 457.35C163.95 456.84 163.44 455.99 162.92 455.05C162.39 454.11 161.32 452.83 161.46 451.72C161.61 450.61 163.12 449.31 163.79 448.40C164.45 447.49 164.76 446.96 165.43 446.28C166.10 445.60 166.87 444.83 167.78 444.33C168.70 443.84 170.01 443.29 170.92 443.31C171.84 443.33 172.64 443.84 173.29 444.45C173.93 445.07 174.68 446.06 174.79 446.99C174.90 447.92 174.12 448.97 173.93 450.03C173.74 451.08 173.94 452.14 173.65 453.32Z" fill="none" stroke="#3c3c3c" stroke-width="0.5" stroke-linejoin="round"/>
<path d="M172.89 453.17C172.66 454.13 172.41 455.61 171.83 456.25C171.25 456.90 170.25 456.98 169.41 457.04C168.57 457.10 167.48 456.76 166.80 456.61C166.12 456.46 165.83 456.51 165.33 456.12C164.82 455.74 164.24 455.02 163.77 454.28C163.31 453.54 162.45 452.54 162.53 451.67C162.62 450.79 163.66 449.83 164.29 449.04C164.91 448.25 165.65 447.53 166.30 446.90C166.95 446.27 167.50 445.63 168.17 445.27C168.84 444.90 169.59 444.75 170.34 444.71C171.09 444.68 172.14 444.56 172.68 445.06C173.23 445.55 173.52 446.78 173.61 447.68C173.69 448.58 173.30 449.55 173.18 450.47C173.06 451.38 173.11 452.20 172.89 453.17Z" fill="none" stroke="#3c3c3c" stroke-width="0.5" stroke-linejoin="round"/>
<path d="M171.98 452.94C171.83 453.69 171.82 454.42 171.33 454.92C170.83 455.41 169.72 455.78 169.02 455.91C168.32 456.03 167.62 455.76 167.13 455.66C166.63 455.56 166.46 455.65 166.06 455.32C165.65 455.00 165.10 454.28 164.71 453.69C164.33 453.09 163.65 452.51 163.76 451.76C163.86 451.01 164.90 449.86 165.36 449.19C165.81 448.52 166.06 448.26 166.50 447.74C166.94 447.22 167.45 446.38 168.00 446.05C168.55 445.73 169.18 445.78 169.79 445.81C170.41 445.83 171.21 445.76 171.69 446.21C172.17 446.66 172.60 447.81 172.69 448.51C172.77 449.21 172.34 449.68 172.23 450.41C172.11 451.15 172.13 452.19 171.98 452.94Z" fill="none" stroke="#3c3c3c" stroke-width="0.5" stroke-linejoin="round"/>
<path d="M171.42 452.22C171.26 452.77 170.80 453.67 170.34 454.07C169.88 454.47 169.14 454.54 168.66 454.61C168.17 454.68 167.74 454.55 167.42 454.49C167.10 454.43 166.98 454.49 166.74 454.25C166.51 454.00 166.26 453.45 165.98 453.01C165.71 452.57 165.03 452.19 165.08 451.62C165.14 451.06 165.94 450.13 166.31 449.62C166.68 449.11 167.00 448.87 167.30 448.55C167.60 448.22 167.70 447.87 168.10 447.66C168.51 447.46 169.21 447.33 169.73 447.33C170.24 447.32 170.91 447.40 171.20 447.62C171.49 447.84 171.45 448.10 171.47 448.63C171.49 449.15 171.33 450.16 171.33 450.76C171.32 451.36 171.59 451.67 171.42 452.22Z" fill="none" stroke="#3c3c3c" stroke-width="0.5" stroke-linejoin="round"/>
<path d="M170.29 451.59C170.13 451.98 169.83 452.64 169.61 452.89C169.39 453.14 169.26 453.01 168.95 453.07C168.65 453.14 168.05 453.22 167.77 453.27C167.50 453.32 167.51 453.58 167.28 453.38C167.05 453.18 166.55 452.37 166.40 452.07C166.26 451.78 166.38 451.95 166.42 451.62C166.47 451.29 166.45 450.47 166.65 450.09C166.85 449.70 167.35 449.56 167.62 449.31C167.90 449.06 168.05 448.80 168.31 448.60C168.57 448.40 168.90 448.12 169.18 448.10C169.45 448.08 169.75 448.21 169.96 448.47C170.16 448.73 170.32 449.31 170.42 449.66C170.52 450.02 170.57 450.28 170.55 450.60C170.53 450.92 170.45 451.21 170.29 451.59Z" fill="none" stroke="#3c3c3c" stroke-width="0.5" stroke-linejoin="round"/>
<path d="M169.73 451.58C169.70 451.78 169.39 451.93 169.19 452.09C168.99 452.24 168.69 452.51 168.54 452.50C168.39 452.48 168.44 452.04 168.29 451.99C168.14 451.95 167.76 452.24 167.64 452.21C167.51 452.18 167.61 451.95 167.53 451.81C167.45 451.67 167.11 451.60 167.16 451.36C167.22 451.11 167.71 450.56 167.87 450.33C168.03 450.10 168.01 450.05 168.13 449.99C168.26 449.92 168.43 450.02 168.60 449.93C168.77 449.84 169.05 449.47 169.15 449.46C169.25 449.45 169.10 449.78 169.20 449.88C169.29 449.98 169.69 449.87 169.72 450.04C169.75 450.22 169.37 450.66 169.37 450.92C169.38 451.17 169.76 451.39 169.73 451.58Z" fill="none" stroke="#3c3c3c" stroke-width="0.5" stroke-linejoin="round"/>
<path d="M167.13 440.52C167.19 441.08 166.99 441.86 166.72 442.33C166.44 442.80 165.80 443.02 165.47 443.36C165.13 443.71 165.02 444.24 164.70 444.41C164.37 444.58 163.94 444.43 163.51 444.37C163.09 444.31 162.53 444.36 162.14 444.06C161.76 443.76 161.32 443.14 161.19 442.57C161.06 442.00 161.31 441.26 161.37 440.64C161.43 440.03 161.44 439.43 161.57 438.86C161.71 438.29 161.87 437.59 162.19 437.21C162.52 436.84 163.10 436.78 163.51 436.60C163.92 436.43 164.35 435.99 164.67 436.18C164.99 436.38 165.15 437.32 165.42 437.78C165.69 438.25 166.02 438.51 166.30 438.97C166.58 439.43 167.06 439.96 167.13 440.52Z" fill="none" stroke="#484848" stroke-width="0.45" stroke-linejoin="round"/>
<path d="M165.38 440.61C165.45 440.81 165.32 440.99 165.17 441.17C165.02 441.35 164.63 441.57 164.47 441.70C164.31 441.84 164.33 441.93 164.23 441.97C164.12 442.01 164.02 441.92 163.84 441.92C163.66 441.93 163.28 442.08 163.14 442.00C163.00 441.93 163.02 441.70 162.99 441.46C162.96 441.22 162.92 440.80 162.97 440.58C163.01 440.36 163.21 440.39 163.27 440.15C163.32 439.91 163.25 439.34 163.32 439.14C163.40 438.95 163.57 439.07 163.72 439.00C163.86 438.92 164.00 438.59 164.19 438.70C164.37 438.80 164.73 439.43 164.82 439.64C164.92 439.85 164.67 439.79 164.77 439.96C164.86 440.12 165.32 440.41 165.38 440.61Z" fill="none" stroke="#484848" stroke-width="0.45" stroke-linejoin="round"/>
<path d="M154.60 418.00C154.93 418.50 156.00 419.33 156.60 421.00C157.20 422.67 157.70 425.17 158.20 428.00C158.70 430.83 159.40 434.67 159.60 438.00C159.80 441.33 159.57 445.00 159.40 448.00C159.23 451.00 158.57 453.70 158.60 456.00C158.63 458.30 158.87 460.53 159.60 461.80C160.33 463.07 160.93 463.33 163.00 463.60C165.07 463.87 168.83 463.33 172.00 463.40C175.17 463.47 179.43 463.53 182.00 464.00C184.57 464.47 186.13 465.47 187.40 466.20C188.67 466.93 189.23 468.03 189.60 468.40L154.6 468.4Z" fill="#9a9a9a" stroke="#3c3c3c" stroke-width="0.4" stroke-linejoin="round"/>
<path d="M155.60 422.00C155.83 423.33 156.73 427.00 157.00 430.00C157.27 433.00 157.27 436.67 157.20 440.00C157.13 443.33 156.67 446.67 156.60 450.00C156.53 453.33 156.77 458.33 156.80 460.00" fill="none" stroke="#484848" stroke-width="0.5" stroke-linejoin="round"/>
<path d="M158.20 426.40C158.40 427.17 159.13 429.23 159.40 431.00C159.67 432.77 159.80 434.90 159.80 437.00C159.80 439.10 159.47 442.50 159.40 443.60" fill="none" stroke="#000" stroke-width="1.5" stroke-linejoin="round"/>
<path d="M156.40 460.60C156.60 461.23 156.67 463.57 157.60 464.40C158.53 465.23 159.60 465.47 162.00 465.60C164.40 465.73 168.83 465.17 172.00 465.20C175.17 465.23 178.60 465.40 181.00 465.80C183.40 466.20 185.50 467.30 186.40 467.60" fill="none" stroke="#050505" stroke-width="2.0" stroke-linejoin="round"/>
<path d="M161.40 424.00C161.60 426.00 162.53 431.67 162.60 436.00C162.67 440.33 161.83 446.17 161.80 450.00C161.77 453.83 161.87 457.07 162.40 459.00C162.93 460.93 162.73 461.17 165.00 461.60C167.27 462.03 172.83 461.40 176.00 461.60C179.17 461.80 182.67 462.60 184.00 462.80" fill="none" stroke="#3c3c3c" stroke-width="0.5" stroke-linejoin="round"/>
<path d="M206.40 398.00C206.43 396.13 206.60 394.83 207.20 393.80C207.80 392.77 208.80 392.13 210.00 391.80C211.20 391.47 213.13 391.43 214.40 391.80C215.67 392.17 216.83 392.88 217.60 394.00C218.37 395.12 218.87 396.83 219.00 398.50C219.13 400.17 218.87 402.25 218.40 404.00C217.93 405.75 217.07 407.53 216.20 409.00C215.33 410.47 214.27 412.03 213.20 412.80C212.13 413.57 210.80 413.87 209.80 413.60C208.80 413.33 207.67 412.63 207.20 411.20C206.73 409.77 207.13 407.20 207.00 405.00C206.87 402.80 206.37 399.87 206.40 398.00Z" fill="none" stroke="#484848" stroke-width="0.5" stroke-linejoin="round"/>
<path d="M207.04 398.40C207.07 396.72 207.22 395.55 207.76 394.62C208.30 393.69 209.20 393.12 210.28 392.82C211.36 392.52 213.10 392.49 214.24 392.82C215.38 393.15 216.43 393.80 217.12 394.80C217.81 395.81 218.26 397.35 218.38 398.85C218.50 400.35 218.26 402.23 217.84 403.80C217.42 405.38 216.64 406.98 215.86 408.30C215.08 409.62 214.12 411.03 213.16 411.72C212.20 412.41 211.00 412.68 210.10 412.44C209.20 412.20 208.18 411.57 207.76 410.28C207.34 408.99 207.70 406.68 207.58 404.70C207.46 402.72 207.01 400.08 207.04 398.40Z" fill="none" stroke="#484848" stroke-width="0.5" stroke-linejoin="round"/>
<path d="M206.40 398.00C206.43 396.13 206.60 394.83 207.20 393.80C207.80 392.77 208.80 392.13 210.00 391.80C211.20 391.47 213.13 391.43 214.40 391.80C215.67 392.17 216.83 392.88 217.60 394.00C218.37 395.12 218.87 396.83 219.00 398.50C219.13 400.17 218.87 402.25 218.40 404.00C217.93 405.75 217.07 407.53 216.20 409.00C215.33 410.47 214.27 412.03 213.20 412.80C212.13 413.57 210.80 413.87 209.80 413.60C208.80 413.33 207.67 412.63 207.20 411.20C206.73 409.77 207.13 407.20 207.00 405.00C206.87 402.80 206.37 399.87 206.40 398.00Z" fill="#bdbdbd" stroke="none" stroke-width="0" stroke-linejoin="round"/>
<path d="M206.44 397.97C206.48 396.10 206.64 394.81 207.23 393.79C207.82 392.76 208.78 392.15 209.97 391.82C211.17 391.48 213.12 391.41 214.39 391.78C215.66 392.14 216.82 392.90 217.59 394.03C218.37 395.15 218.90 396.84 219.03 398.51C219.16 400.17 218.83 402.27 218.36 404.02C217.89 405.78 217.06 407.57 216.21 409.03C215.35 410.49 214.30 412.02 213.24 412.79C212.17 413.55 210.84 413.89 209.83 413.63C208.82 413.36 207.65 412.63 207.18 411.19C206.71 409.75 207.11 407.19 206.99 404.99C206.87 402.79 206.40 399.84 206.44 397.97Z" fill="none" stroke="#0c0c0c" stroke-width="1.0" stroke-linejoin="round"/>
<path d="M207.20 398.48C207.22 396.85 207.36 395.77 207.89 394.87C208.41 393.98 209.29 393.40 210.35 393.10C211.40 392.81 213.12 392.79 214.23 393.11C215.33 393.44 216.30 394.07 216.97 395.05C217.64 396.03 218.12 397.53 218.24 398.98C218.36 400.44 218.12 402.25 217.71 403.77C217.30 405.29 216.55 406.82 215.79 408.09C215.04 409.37 214.09 410.75 213.16 411.42C212.23 412.09 211.08 412.33 210.21 412.10C209.33 411.87 208.32 411.27 207.91 410.02C207.50 408.77 207.88 406.53 207.76 404.61C207.64 402.68 207.18 400.10 207.20 398.48Z" fill="none" stroke="#0c0c0c" stroke-width="1.0" stroke-linejoin="round"/>
<path d="M208.05 399.04C208.07 397.65 208.20 396.62 208.65 395.85C209.10 395.08 209.85 394.65 210.74 394.40C211.64 394.16 213.07 394.12 214.01 394.40C214.94 394.67 215.78 395.23 216.35 396.06C216.92 396.89 217.33 398.14 217.43 399.38C217.54 400.63 217.31 402.20 216.97 403.52C216.62 404.83 216.01 406.17 215.36 407.26C214.71 408.35 213.88 409.49 213.08 410.05C212.27 410.61 211.29 410.83 210.54 410.63C209.79 410.43 208.95 409.90 208.60 408.83C208.26 407.76 208.59 405.85 208.49 404.22C208.40 402.59 208.02 400.44 208.05 399.04Z" fill="none" stroke="#0c0c0c" stroke-width="1.0" stroke-linejoin="round"/>
<path d="M208.80 399.49C208.82 398.32 208.97 397.53 209.35 396.89C209.72 396.26 210.32 395.86 211.06 395.67C211.81 395.47 213.03 395.48 213.82 395.71C214.60 395.94 215.28 396.36 215.76 397.05C216.24 397.74 216.59 398.79 216.68 399.83C216.77 400.86 216.60 402.17 216.30 403.26C216.01 404.35 215.43 405.47 214.89 406.37C214.35 407.27 213.71 408.19 213.05 408.66C212.40 409.14 211.57 409.38 210.95 409.22C210.33 409.06 209.62 408.59 209.33 407.70C209.04 406.81 209.29 405.26 209.20 403.89C209.11 402.52 208.77 400.65 208.80 399.49Z" fill="none" stroke="#0c0c0c" stroke-width="1.0" stroke-linejoin="round"/>
<path d="M206.40 398.00C206.43 396.13 206.60 394.83 207.20 393.80C207.80 392.77 208.80 392.13 210.00 391.80C211.20 391.47 213.13 391.43 214.40 391.80C215.67 392.17 216.83 392.88 217.60 394.00C218.37 395.12 218.87 396.83 219.00 398.50C219.13 400.17 218.87 402.25 218.40 404.00C217.93 405.75 217.07 407.53 216.20 409.00C215.33 410.47 214.27 412.03 213.20 412.80C212.13 413.57 210.80 413.87 209.80 413.60C208.80 413.33 207.67 412.63 207.20 411.20C206.73 409.77 207.13 407.20 207.00 405.00C206.87 402.80 206.37 399.87 206.40 398.00Z" fill="none" stroke="#555" stroke-width="0.45" stroke-linejoin="round"/>
<path d="M208.68 399.26C208.70 398.05 208.81 397.20 209.19 396.53C209.58 395.86 210.24 395.45 211.02 395.23C211.80 395.01 213.05 394.99 213.88 395.23C214.70 395.47 215.46 395.93 215.95 396.66C216.45 397.39 216.78 398.50 216.87 399.59C216.95 400.67 216.78 402.02 216.47 403.16C216.17 404.30 215.61 405.46 215.04 406.41C214.48 407.36 213.79 408.38 213.09 408.88C212.40 409.38 211.54 409.57 210.89 409.40C210.24 409.23 209.50 408.77 209.19 407.84C208.89 406.91 209.15 405.24 209.06 403.81C208.98 402.38 208.65 400.47 208.68 399.26Z" fill="none" stroke="#555" stroke-width="0.45" stroke-linejoin="round"/>
<path d="M210.95 400.52C210.96 399.96 211.01 399.57 211.19 399.26C211.37 398.95 211.67 398.76 212.03 398.66C212.39 398.56 212.97 398.55 213.35 398.66C213.73 398.77 214.08 398.99 214.31 399.32C214.54 399.65 214.69 400.17 214.73 400.67C214.77 401.17 214.69 401.80 214.55 402.32C214.41 402.84 214.15 403.38 213.89 403.82C213.63 404.26 213.31 404.73 212.99 404.96C212.67 405.19 212.27 405.28 211.97 405.20C211.67 405.12 211.33 404.91 211.19 404.48C211.05 404.05 211.17 403.28 211.13 402.62C211.09 401.96 210.94 401.08 210.95 400.52Z" fill="none" stroke="#555" stroke-width="0.45" stroke-linejoin="round"/>
<path d="M193.40 416.00C193.43 414.15 194.00 413.23 194.80 412.40C195.60 411.57 196.97 411.03 198.20 411.00C199.43 410.97 201.13 411.43 202.20 412.20C203.27 412.97 204.10 414.13 204.60 415.60C205.10 417.07 205.30 419.33 205.20 421.00C205.10 422.67 204.73 424.33 204.00 425.60C203.27 426.87 201.93 428.23 200.80 428.60C199.67 428.97 198.23 428.65 197.20 427.80C196.17 426.95 195.23 425.47 194.60 423.50C193.97 421.53 193.37 417.85 193.40 416.00Z" fill="none" stroke="#484848" stroke-width="0.5" stroke-linejoin="round"/>
<path d="M194.12 416.43C194.15 414.80 194.65 414.00 195.35 413.26C196.06 412.53 197.26 412.06 198.34 412.03C199.43 412.00 200.93 412.41 201.86 413.09C202.80 413.76 203.54 414.79 203.98 416.08C204.42 417.37 204.59 419.37 204.50 420.83C204.42 422.30 204.09 423.77 203.45 424.88C202.80 425.99 201.63 427.20 200.63 427.52C199.63 427.84 198.37 427.56 197.46 426.82C196.55 426.07 195.73 424.76 195.18 423.03C194.62 421.30 194.09 418.06 194.12 416.43Z" fill="none" stroke="#484848" stroke-width="0.5" stroke-linejoin="round"/>
<path d="M193.40 416.00C193.43 414.15 194.00 413.23 194.80 412.40C195.60 411.57 196.97 411.03 198.20 411.00C199.43 410.97 201.13 411.43 202.20 412.20C203.27 412.97 204.10 414.13 204.60 415.60C205.10 417.07 205.30 419.33 205.20 421.00C205.10 422.67 204.73 424.33 204.00 425.60C203.27 426.87 201.93 428.23 200.80 428.60C199.67 428.97 198.23 428.65 197.20 427.80C196.17 426.95 195.23 425.47 194.60 423.50C193.97 421.53 193.37 417.85 193.40 416.00Z" fill="#a8a8a8" stroke="none" stroke-width="0" stroke-linejoin="round"/>
<path d="M193.37 416.00C193.40 414.16 193.99 413.26 194.80 412.44C195.60 411.61 196.97 411.08 198.20 411.04C199.43 410.99 201.13 411.42 202.20 412.18C203.27 412.93 204.11 414.11 204.61 415.57C205.10 417.04 205.27 419.29 205.17 420.97C205.07 422.64 204.75 424.37 204.02 425.64C203.29 426.91 201.93 428.23 200.79 428.59C199.66 428.95 198.22 428.64 197.19 427.79C196.16 426.94 195.25 425.46 194.62 423.49C193.98 421.53 193.34 417.84 193.37 416.00Z" fill="none" stroke="#0c0c0c" stroke-width="1.0" stroke-linejoin="round"/>
<path d="M194.37 416.60C194.40 415.04 194.90 414.22 195.57 413.53C196.25 412.83 197.40 412.44 198.43 412.42C199.45 412.40 200.83 412.78 201.72 413.41C202.61 414.04 203.35 415.01 203.77 416.23C204.18 417.44 204.32 419.32 204.23 420.72C204.14 422.11 203.84 423.52 203.24 424.58C202.63 425.64 201.54 426.80 200.59 427.10C199.64 427.40 198.40 427.10 197.54 426.39C196.68 425.68 195.96 424.47 195.43 422.84C194.90 421.21 194.35 418.15 194.37 416.60Z" fill="none" stroke="#0c0c0c" stroke-width="1.0" stroke-linejoin="round"/>
<path d="M195.41 417.15C195.42 415.92 195.79 415.33 196.32 414.77C196.85 414.21 197.78 413.83 198.60 413.79C199.42 413.76 200.53 414.05 201.24 414.57C201.96 415.09 202.57 415.91 202.90 416.89C203.23 417.87 203.30 419.35 203.23 420.45C203.16 421.56 202.95 422.68 202.47 423.53C201.98 424.39 201.08 425.32 200.32 425.56C199.57 425.81 198.60 425.57 197.92 425.00C197.24 424.43 196.65 423.45 196.23 422.14C195.82 420.84 195.39 418.38 195.41 417.15Z" fill="none" stroke="#0c0c0c" stroke-width="1.0" stroke-linejoin="round"/>
<path d="M196.40 417.69C196.42 416.76 196.69 416.33 197.09 415.91C197.50 415.49 198.21 415.20 198.82 415.18C199.44 415.16 200.26 415.40 200.79 415.79C201.32 416.18 201.74 416.80 201.99 417.53C202.24 418.26 202.35 419.35 202.30 420.18C202.25 421.01 202.06 421.89 201.69 422.53C201.31 423.16 200.64 423.84 200.07 424.02C199.50 424.19 198.78 424.00 198.26 423.58C197.74 423.15 197.28 422.46 196.96 421.47C196.65 420.49 196.38 418.61 196.40 417.69Z" fill="none" stroke="#0c0c0c" stroke-width="1.0" stroke-linejoin="round"/>
<ellipse cx="199.6" cy="419.0" rx="1.0" ry="3.0" fill="#f2f2f2" transform="rotate(-8 199.6 419)"/>
<path d="M191.60 418.00C191.67 419.00 191.53 422.13 192.00 424.00C192.47 425.87 193.23 428.00 194.40 429.20C195.57 430.40 197.50 431.17 199.00 431.20C200.50 431.23 202.20 430.47 203.40 429.40C204.60 428.33 205.57 426.70 206.20 424.80C206.83 422.90 207.13 419.70 207.20 418.00C207.27 416.30 206.70 415.17 206.60 414.60" fill="none" stroke="#555" stroke-width="0.45" stroke-linejoin="round"/>
<path d="M193.00 426.00C193.50 426.70 194.93 429.50 196.00 430.20C197.07 430.90 198.23 430.57 199.40 430.20C200.57 429.83 202.40 428.37 203.00 428.00" fill="none" stroke="#666" stroke-width="0.9" stroke-linejoin="round"/>
</g>
<text x="0" y="0" font-size="17.5" font-weight="bold" fill="#000" transform="translate(290.0 375.8) scale(1.02 1)">F</text>
<text x="0" y="0" font-size="14.8" fill="#000" transform="translate(353.6 364.6) scale(0.925 1)">CD34<tspan font-size="8.5" dy="-6">-</tspan><tspan dy="6">LSK cells</tspan></text>
<line x1="324.1" y1="492.55" x2="324.1" y2="405.55" stroke="#000" stroke-width="1.5"/>
<line x1="320.70000000000005" y1="491.8" x2="324.1" y2="491.8" stroke="#000" stroke-width="1.5"/>
<text x="320.2" y="495.88" font-size="11.5" font-weight="bold" text-anchor="end" fill="#000">0</text>
<line x1="320.70000000000005" y1="463.40000000000003" x2="324.1" y2="463.40000000000003" stroke="#000" stroke-width="1.5"/>
<text x="320.2" y="467.48" font-size="11.5" font-weight="bold" text-anchor="end" fill="#000">10</text>
<line x1="320.70000000000005" y1="435.3" x2="324.1" y2="435.3" stroke="#000" stroke-width="1.5"/>
<text x="320.2" y="439.38" font-size="11.5" font-weight="bold" text-anchor="end" fill="#000">20</text>
<line x1="320.70000000000005" y1="406.90000000000003" x2="324.1" y2="406.90000000000003" stroke="#000" stroke-width="1.5"/>
<text x="320.2" y="410.98" font-size="11.5" font-weight="bold" text-anchor="end" fill="#000">30</text>
<line x1="323.1" y1="491.8" x2="507.7" y2="491.8" stroke="#000" stroke-width="1.5"/>
<text x="300.78" y="445.5" font-size="13" font-weight="bold" text-anchor="middle" fill="#000" transform="rotate(-90 300.78 445.5)">%</text>
<line x1="352.3" y1="472" x2="352.3" y2="464.6" stroke="#000" stroke-width="1.4"/>
<line x1="346.55" y1="464.6" x2="358.05" y2="464.6" stroke="#000" stroke-width="1.4"/>
<rect x="340.20" y="471.20" width="24.20" height="20.60" fill="#000" stroke="none" stroke-width="0"/>
<line x1="387" y1="453.5" x2="387" y2="441.8" stroke="#000" stroke-width="1.4"/>
<line x1="381.0" y1="441.8" x2="393.0" y2="441.8" stroke="#000" stroke-width="1.4"/>
<rect x="375.75" y="453.55" width="22.30" height="38.25" fill="#fff" stroke="#000" stroke-width="1.5"/>
<line x1="444.2" y1="472" x2="444.2" y2="465" stroke="#000" stroke-width="1.4"/>
<line x1="438.45" y1="465" x2="449.95" y2="465" stroke="#000" stroke-width="1.4"/>
<rect x="432.30" y="471.20" width="23.60" height="20.60" fill="#000" stroke="none" stroke-width="0"/>
<line x1="478.8" y1="435" x2="478.8" y2="421.2" stroke="#000" stroke-width="1.4"/>
<line x1="472.55" y1="421.2" x2="485.05" y2="421.2" stroke="#000" stroke-width="1.4"/>
<rect x="467.25" y="435.05" width="22.30" height="56.75" fill="#fff" stroke="#000" stroke-width="1.5"/>
<path d="M352.2 462.5 V429.9 H387.2 V441" fill="none" stroke="#000" stroke-width="1.5"/>
<path d="M443.8 462.8 V411.1 H478.8 V421" fill="none" stroke="#000" stroke-width="1.5"/>
<text x="368.7" y="430.99" font-size="11.5" font-weight="bold" text-anchor="middle" fill="#111">*</text>
<text x="459.2" y="409.69" font-size="11.5" font-weight="bold" text-anchor="middle" fill="#111">**</text>
<text x="382.2" y="503.4" font-size="9.7" font-weight="bold" text-anchor="middle" fill="#111">Annexin V+ 7AAD-</text>
<text x="473.6" y="503.4" font-size="9.7" font-weight="bold" text-anchor="middle" fill="#111">Annexin V+ 7AAD+</text>
<rect x="444.80" y="373.60" width="9.80" height="8.20" fill="#000" stroke="none" stroke-width="0"/>
<rect x="445.50" y="386.70" width="8.40" height="6.80" fill="#fff" stroke="#000" stroke-width="1.4"/>
<text x="0" y="0" font-size="10.6" text-anchor="start" fill="#000" transform="translate(460 381.4) scale(0.943 1)">fl/fl:cre-</text>
<text x="0" y="0" font-size="10.6" text-anchor="start" fill="#000" transform="translate(460 393.8) scale(0.943 1)">fl/fl:cre+</text>
</g></svg></body></html>
